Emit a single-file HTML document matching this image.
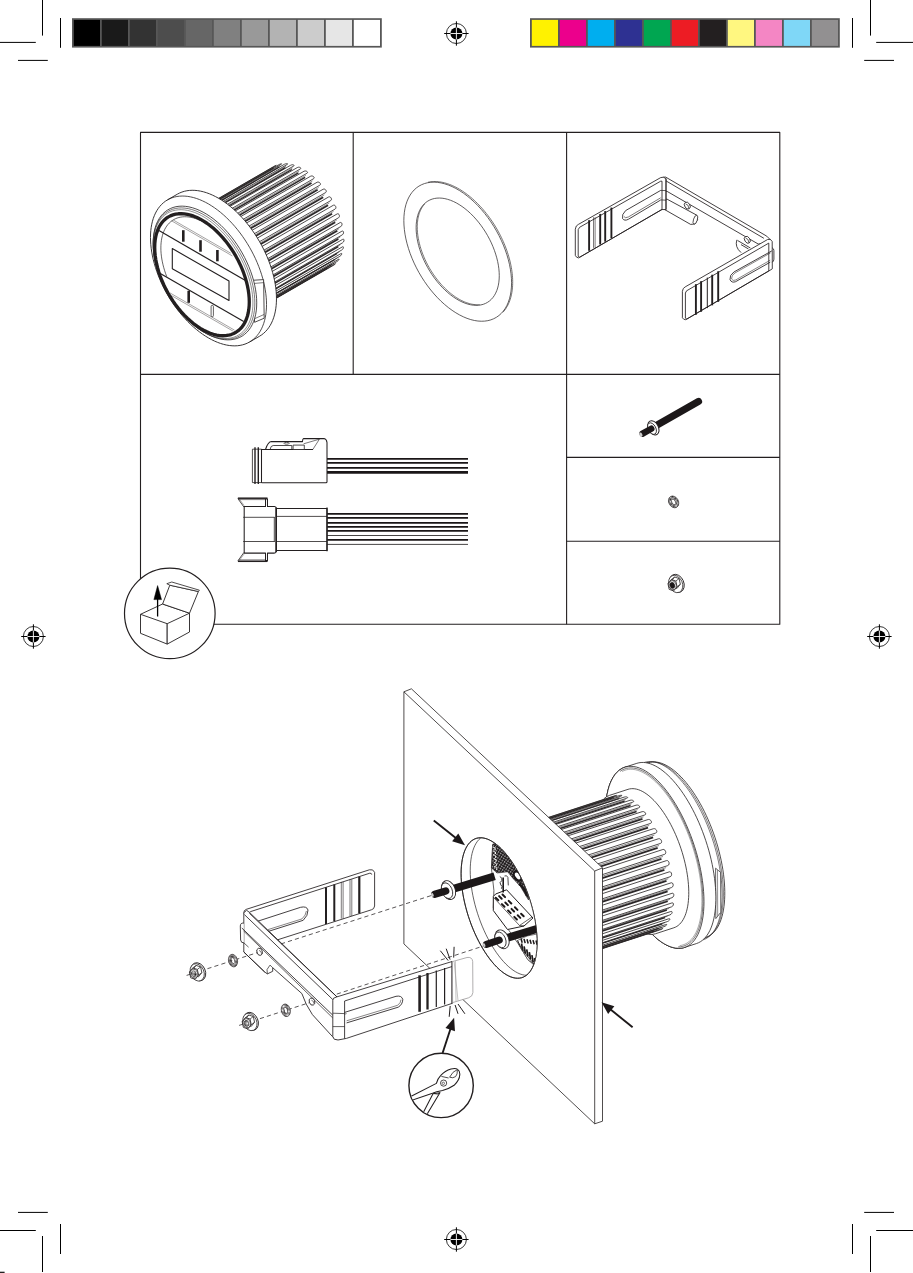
<!DOCTYPE html>
<html><head><meta charset="utf-8"><title>Installation</title>
<style>html,body{margin:0;padding:0;background:#fff;font-family:"Liberation Sans",sans-serif}svg{display:block}</style>
</head><body>
<svg width="913" height="1273" viewBox="0 0 913 1273" stroke-linecap="butt" stroke-linejoin="round">
<rect width="913" height="1273" fill="#fff"/>
<line x1="42.5" y1="0" x2="42.5" y2="35.6" stroke="#000" stroke-width="1" />
<line x1="0" y1="42.4" x2="35.8" y2="42.4" stroke="#000" stroke-width="1" />
<line x1="60.5" y1="18" x2="60.5" y2="47.8" stroke="#000" stroke-width="1" />
<line x1="18" y1="60.4" x2="47.8" y2="60.4" stroke="#000" stroke-width="1" />
<line x1="42.5" y1="1236" x2="42.5" y2="1272" stroke="#000" stroke-width="1" />
<line x1="0" y1="1230.5" x2="35.8" y2="1230.5" stroke="#000" stroke-width="1" />
<line x1="60.5" y1="1224" x2="60.5" y2="1254" stroke="#000" stroke-width="1" />
<line x1="18" y1="1212.4" x2="47.8" y2="1212.4" stroke="#000" stroke-width="1" />
<line x1="870.5" y1="0" x2="870.5" y2="35.6" stroke="#000" stroke-width="1" />
<line x1="876.2" y1="42.4" x2="913" y2="42.4" stroke="#000" stroke-width="1" />
<line x1="852.5" y1="18" x2="852.5" y2="47.8" stroke="#000" stroke-width="1" />
<line x1="864.2" y1="60.4" x2="894" y2="60.4" stroke="#000" stroke-width="1" />
<line x1="870.5" y1="1236" x2="870.5" y2="1272" stroke="#000" stroke-width="1" />
<line x1="876.2" y1="1230.5" x2="913" y2="1230.5" stroke="#000" stroke-width="1" />
<line x1="852.5" y1="1224" x2="852.5" y2="1254" stroke="#000" stroke-width="1" />
<line x1="864.2" y1="1212.4" x2="894" y2="1212.4" stroke="#000" stroke-width="1" />
<circle cx="456.4" cy="33.5" r="10" fill="none" stroke="#000" stroke-width="0.8"/>
<circle cx="456.4" cy="33.5" r="6" fill="#000"/>
<line x1="444.2" y1="33.5" x2="468.6" y2="33.5" stroke="#000" stroke-width="1" />
<line x1="456.4" y1="21.3" x2="456.4" y2="45.7" stroke="#000" stroke-width="1" />
<line x1="450.4" y1="33.5" x2="462.4" y2="33.5" stroke="#fff" stroke-width="0.9" />
<line x1="456.4" y1="27.5" x2="456.4" y2="39.5" stroke="#fff" stroke-width="0.9" />
<circle cx="456.4" cy="1239.5" r="10" fill="none" stroke="#000" stroke-width="0.8"/>
<circle cx="456.4" cy="1239.5" r="6" fill="#000"/>
<line x1="444.2" y1="1239.5" x2="468.6" y2="1239.5" stroke="#000" stroke-width="1" />
<line x1="456.4" y1="1227.3" x2="456.4" y2="1251.7" stroke="#000" stroke-width="1" />
<line x1="450.4" y1="1239.5" x2="462.4" y2="1239.5" stroke="#fff" stroke-width="0.9" />
<line x1="456.4" y1="1233.5" x2="456.4" y2="1245.5" stroke="#fff" stroke-width="0.9" />
<circle cx="33.4" cy="636.5" r="10" fill="none" stroke="#000" stroke-width="0.8"/>
<circle cx="33.4" cy="636.5" r="6" fill="#000"/>
<line x1="21.2" y1="636.5" x2="45.6" y2="636.5" stroke="#000" stroke-width="1" />
<line x1="33.4" y1="624.3" x2="33.4" y2="648.7" stroke="#000" stroke-width="1" />
<line x1="27.4" y1="636.5" x2="39.4" y2="636.5" stroke="#fff" stroke-width="0.9" />
<line x1="33.4" y1="630.5" x2="33.4" y2="642.5" stroke="#fff" stroke-width="0.9" />
<circle cx="879.4" cy="636.5" r="10" fill="none" stroke="#000" stroke-width="0.8"/>
<circle cx="879.4" cy="636.5" r="6" fill="#000"/>
<line x1="867.2" y1="636.5" x2="891.6" y2="636.5" stroke="#000" stroke-width="1" />
<line x1="879.4" y1="624.3" x2="879.4" y2="648.7" stroke="#000" stroke-width="1" />
<line x1="873.4" y1="636.5" x2="885.4" y2="636.5" stroke="#fff" stroke-width="0.9" />
<line x1="879.4" y1="630.5" x2="879.4" y2="642.5" stroke="#fff" stroke-width="0.9" />
<rect x="72" y="18.2" width="309.8" height="29.4" fill="#575757"/>
<rect x="73.8" y="19.9" width="26.2" height="26.0" fill="#000000"/>
<rect x="101.8" y="19.9" width="26.2" height="26.0" fill="#1a1a1a"/>
<rect x="129.8" y="19.9" width="26.2" height="26.0" fill="#333333"/>
<rect x="157.8" y="19.9" width="26.2" height="26.0" fill="#4d4d4d"/>
<rect x="185.8" y="19.9" width="26.2" height="26.0" fill="#666666"/>
<rect x="213.8" y="19.9" width="26.2" height="26.0" fill="#808080"/>
<rect x="241.8" y="19.9" width="26.2" height="26.0" fill="#999999"/>
<rect x="269.8" y="19.9" width="26.2" height="26.0" fill="#b3b3b3"/>
<rect x="297.8" y="19.9" width="26.2" height="26.0" fill="#cccccc"/>
<rect x="325.8" y="19.9" width="26.2" height="26.0" fill="#e6e6e6"/>
<rect x="353.8" y="19.9" width="26.2" height="26.0" fill="#ffffff"/>
<rect x="530" y="18.2" width="309.8" height="29.4" fill="#575757"/>
<rect x="531.8" y="19.9" width="26.2" height="26.0" fill="#fff200"/>
<rect x="559.8" y="19.9" width="26.2" height="26.0" fill="#ec008c"/>
<rect x="587.8" y="19.9" width="26.2" height="26.0" fill="#00aeef"/>
<rect x="615.8" y="19.9" width="26.2" height="26.0" fill="#2e3192"/>
<rect x="643.8" y="19.9" width="26.2" height="26.0" fill="#00a651"/>
<rect x="671.8" y="19.9" width="26.2" height="26.0" fill="#ed1c24"/>
<rect x="699.8" y="19.9" width="26.2" height="26.0" fill="#231f20"/>
<rect x="727.8" y="19.9" width="26.2" height="26.0" fill="#fff780"/>
<rect x="755.8" y="19.9" width="26.2" height="26.0" fill="#f486c4"/>
<rect x="783.8" y="19.9" width="26.2" height="26.0" fill="#7fd7f7"/>
<rect x="811.8" y="19.9" width="26.2" height="26.0" fill="#929091"/>
<path d="M140.5,579 L140.5,132.4 L779.8,132.4 L779.8,624.3 L213.8,624.3" fill="none" stroke="#231f20" stroke-width="1.1" />
<line x1="353.2" y1="132.4" x2="353.2" y2="374.4" stroke="#231f20" stroke-width="1.1" />
<line x1="566.6" y1="132.4" x2="566.6" y2="624.3" stroke="#231f20" stroke-width="1.1" />
<line x1="140.5" y1="374.4" x2="779.8" y2="374.4" stroke="#231f20" stroke-width="1.1" />
<line x1="566.6" y1="457.4" x2="779.8" y2="457.4" stroke="#231f20" stroke-width="1.1" />
<line x1="566.6" y1="541.3" x2="779.8" y2="541.3" stroke="#231f20" stroke-width="1.1" />
<rect x="0" y="1271.7" width="4.6" height="1.3" fill="#222"/>
<path d="M186.09,217.14 L274.42,166.14 L276.78,164.98 L279.3,164.14 L281.96,163.62 L284.77,163.43 L287.68,163.56 L290.69,164.02 L293.78,164.79 L296.93,165.89 L300.11,167.29 L303.32,169 L306.53,171 L309.72,173.27 L312.86,175.81 L315.95,178.6 L318.96,181.62 L321.88,184.86 L324.68,188.29 L327.35,191.89 L329.87,195.64 L332.23,199.51 L334.4,203.49 L336.39,207.55 L338.17,211.66 L339.74,215.8 L341.09,219.94 L342.2,224.06 L343.07,228.13 L343.69,232.13 L344.07,236.02 L344.2,239.8 L344.07,243.43 L343.69,246.89 L343.07,250.17 L342.2,253.23 L341.09,256.07 L339.74,258.66 L338.17,260.98 L336.39,263.04 L334.4,264.8 L332.23,266.26 L243.89,317.26Z" fill="#fff" stroke="none" stroke-width="0" />
<path d="M186.47,216.92 L273.24,166.82 C275.15,165.72 277.35,164.69 275.45,165.79 L188.68,215.89" fill="#fff" stroke="#231f20" stroke-width="0.8" />
<path d="M247.94,314.16 L334.71,264.06 C336.62,262.96 334.77,264.58 332.87,265.68 L246.09,315.78" fill="#fff" stroke="#231f20" stroke-width="0.8" />
<path d="M191.68,214.97 L278.45,164.87 C280.36,163.77 282.86,163.36 280.96,164.46 L194.18,214.56" fill="#fff" stroke="#231f20" stroke-width="0.8" />
<path d="M251.47,309.55 L338.24,259.45 C340.15,258.35 338.71,260.53 336.81,261.63 L250.03,311.73" fill="#fff" stroke="#231f20" stroke-width="0.8" />
<path d="M197.53,214.44 L284.3,164.34 C286.2,163.24 288.94,163.47 287.03,164.57 L200.26,214.67" fill="#fff" stroke="#231f20" stroke-width="0.8" />
<path d="M254.01,303.79 L340.78,253.69 C342.69,252.59 341.7,255.26 339.79,256.36 L253.02,306.46" fill="#fff" stroke="#231f20" stroke-width="0.8" />
<path d="M203.85,215.35 L290.62,165.25 C292.52,164.15 295.41,165.01 293.51,166.11 L206.73,216.21" fill="#fff" stroke="#231f20" stroke-width="0.8" />
<path d="M255.48,297.04 L342.25,246.94 C344.16,245.84 343.65,248.92 341.74,250.02 L254.97,300.12" fill="#fff" stroke="#231f20" stroke-width="0.8" />
<path d="M210.47,217.68 L297.24,167.58 C299.15,166.48 302.11,167.94 300.21,169.04 L213.44,219.14" fill="#fff" stroke="#231f20" stroke-width="0.8" />
<path d="M255.85,289.46 L342.62,239.36 C344.53,238.26 344.5,241.68 342.6,242.78 L255.82,292.88" fill="#fff" stroke="#231f20" stroke-width="0.8" />
<path d="M217.22,221.36 L303.99,171.26 C305.9,170.16 308.86,172.18 306.95,173.28 L220.18,223.38" fill="#fff" stroke="#231f20" stroke-width="0.8" />
<path d="M255.1,281.29 L341.88,231.19 C343.78,230.09 344.25,233.74 342.34,234.84 L255.57,284.94" fill="#fff" stroke="#231f20" stroke-width="0.8" />
<path d="M223.91,226.28 L310.68,176.18 C312.59,175.08 315.46,177.62 313.56,178.72 L226.78,228.82" fill="#fff" stroke="#231f20" stroke-width="0.8" />
<path d="M253.26,272.72 L340.04,222.62 C341.94,221.52 342.88,225.32 340.98,226.42 L254.2,276.52" fill="#fff" stroke="#231f20" stroke-width="0.8" />
<path d="M230.35,232.33 L317.12,182.23 C319.03,181.13 321.74,184.1 319.84,185.2 L233.06,235.3" fill="#fff" stroke="#231f20" stroke-width="0.8" />
<path d="M250.38,264.01 L337.15,213.91 C339.06,212.81 340.45,216.65 338.54,217.75 L251.77,267.85" fill="#fff" stroke="#231f20" stroke-width="0.8" />
<path d="M236.38,239.32 L323.15,189.22 C325.05,188.12 327.53,191.45 325.62,192.55 L238.85,242.65" fill="#fff" stroke="#231f20" stroke-width="0.8" />
<path d="M246.53,255.38 L333.3,205.28 C335.21,204.18 337.01,207.95 335.11,209.05 L248.33,259.15" fill="#fff" stroke="#231f20" stroke-width="0.8" />
<path d="M241.82,247.08 L328.59,196.98 C330.5,195.88 332.67,199.48 330.76,200.58 L243.99,250.68" fill="#fff" stroke="#231f20" stroke-width="0.8" />
<line x1="190.47" y1="216.03" x2="273.6" y2="168.03" stroke="#2a2627" stroke-width="1.15" />
<line x1="189.57" y1="215.95" x2="274.44" y2="166.95" stroke="#2a2627" stroke-width="0.5" />
<line x1="196.08" y1="215.11" x2="279.21" y2="167.11" stroke="#2a2627" stroke-width="1.15" />
<line x1="195.13" y1="214.82" x2="280" y2="165.82" stroke="#2a2627" stroke-width="0.5" />
<line x1="202.2" y1="215.62" x2="285.34" y2="167.62" stroke="#2a2627" stroke-width="1.17" />
<line x1="201.23" y1="215.13" x2="286.1" y2="166.13" stroke="#2a2627" stroke-width="0.5" />
<line x1="208.68" y1="217.53" x2="291.81" y2="169.53" stroke="#2a2627" stroke-width="1.34" />
<line x1="207.71" y1="216.86" x2="292.58" y2="167.86" stroke="#2a2627" stroke-width="0.5" />
<line x1="215.32" y1="220.79" x2="298.46" y2="172.79" stroke="#2a2627" stroke-width="1.48" />
<line x1="214.39" y1="219.96" x2="299.25" y2="170.96" stroke="#2a2627" stroke-width="0.5" />
<line x1="221.96" y1="225.33" x2="305.1" y2="177.33" stroke="#2a2627" stroke-width="1.58" />
<line x1="221.08" y1="224.35" x2="305.95" y2="175.35" stroke="#2a2627" stroke-width="0.5" />
<line x1="228.41" y1="231" x2="311.54" y2="183" stroke="#2a2627" stroke-width="1.66" />
<line x1="227.6" y1="229.9" x2="312.47" y2="180.9" stroke="#2a2627" stroke-width="0.5" />
<line x1="234.49" y1="237.66" x2="317.63" y2="189.66" stroke="#2a2627" stroke-width="1.72" />
<line x1="233.79" y1="236.48" x2="318.66" y2="187.48" stroke="#2a2627" stroke-width="0.5" />
<line x1="240.04" y1="245.13" x2="323.18" y2="197.13" stroke="#2a2627" stroke-width="1.74" />
<line x1="239.46" y1="243.89" x2="324.32" y2="194.89" stroke="#2a2627" stroke-width="0.5" />
<line x1="244.91" y1="253.2" x2="328.04" y2="205.2" stroke="#2a2627" stroke-width="1.75" />
<line x1="244.46" y1="251.94" x2="329.33" y2="202.94" stroke="#2a2627" stroke-width="0.5" />
<line x1="248.96" y1="261.65" x2="332.09" y2="213.65" stroke="#2a2627" stroke-width="1.73" />
<line x1="248.66" y1="260.41" x2="333.53" y2="211.41" stroke="#2a2627" stroke-width="0.5" />
<line x1="252.08" y1="270.25" x2="335.22" y2="222.25" stroke="#2a2627" stroke-width="1.69" />
<line x1="251.94" y1="269.06" x2="336.81" y2="220.06" stroke="#2a2627" stroke-width="0.5" />
<line x1="254.19" y1="278.77" x2="337.33" y2="230.77" stroke="#2a2627" stroke-width="1.62" />
<line x1="254.21" y1="277.66" x2="339.08" y2="228.66" stroke="#2a2627" stroke-width="0.5" />
<line x1="255.23" y1="286.97" x2="338.37" y2="238.97" stroke="#2a2627" stroke-width="1.52" />
<line x1="255.41" y1="285.97" x2="340.28" y2="236.97" stroke="#2a2627" stroke-width="0.5" />
<line x1="255.18" y1="294.64" x2="338.31" y2="246.64" stroke="#2a2627" stroke-width="1.4" />
<line x1="255.51" y1="293.77" x2="340.38" y2="244.77" stroke="#2a2627" stroke-width="0.5" />
<line x1="254.03" y1="301.55" x2="337.16" y2="253.55" stroke="#2a2627" stroke-width="1.24" />
<line x1="254.51" y1="300.85" x2="339.37" y2="251.85" stroke="#2a2627" stroke-width="0.5" />
<line x1="251.81" y1="307.53" x2="334.95" y2="259.53" stroke="#2a2627" stroke-width="1.15" />
<line x1="252.42" y1="307.01" x2="337.29" y2="258.01" stroke="#2a2627" stroke-width="0.5" />
<line x1="248.59" y1="312.41" x2="331.73" y2="264.41" stroke="#2a2627" stroke-width="1.15" />
<line x1="249.32" y1="312.09" x2="334.19" y2="263.09" stroke="#2a2627" stroke-width="0.5" />
<line x1="244.45" y1="316.06" x2="327.59" y2="268.06" stroke="#2a2627" stroke-width="1.15" />
<line x1="245.28" y1="315.93" x2="330.15" y2="266.93" stroke="#2a2627" stroke-width="0.5" />
<path d="M177.43,194.14 L179.63,192.99 L181.94,192.05 L184.35,191.31 L186.85,190.76 L189.44,190.43 L192.11,190.29 L194.85,190.37 L197.66,190.64 L200.52,191.13 L203.44,191.81 L206.39,192.7 L209.38,193.78 L212.39,195.07 L215.42,196.54 L218.45,198.2 L221.49,200.05 L224.52,202.07 L227.53,204.27 L230.52,206.63 L233.47,209.15 L236.38,211.83 L239.25,214.66 L242.05,217.62 L244.8,220.71 L247.47,223.93 L250.06,227.25 L252.56,230.69 L254.97,234.21 L257.28,237.83 L259.48,241.51 L261.57,245.26 L263.55,249.07 L265.39,252.92 L267.12,256.8 L268.7,260.71 L270.15,264.63 L271.46,268.55 L272.62,272.46 L273.64,276.36 L274.5,280.22 L275.21,284.04 L275.76,287.81 L276.16,291.51 L276.4,295.15 L276.48,298.7 L276.4,302.16 L276.16,305.52 L275.76,308.77 L275.21,311.9 L274.5,314.9 L273.64,317.76 L272.62,320.49 L271.46,323.06 L270.15,325.47 L268.7,327.71 L267.12,329.79 L265.39,331.68 L263.55,333.4 L261.57,334.93 L259.48,336.26 L249.52,342.01 L247.32,343.16 L245.01,344.1 L242.6,344.84 L240.1,345.39 L237.51,345.72 L234.84,345.86 L232.09,345.78 L229.29,345.51 L226.42,345.02 L223.51,344.34 L220.56,343.45 L217.57,342.37 L214.56,341.08 L211.53,339.61 L208.5,337.95 L205.46,336.1 L202.43,334.08 L199.42,331.88 L196.43,329.52 L193.48,327 L190.57,324.32 L187.7,321.49 L184.9,318.53 L182.15,315.44 L179.48,312.22 L176.89,308.9 L174.39,305.46 L171.98,301.94 L169.67,298.32 L167.47,294.64 L165.38,290.89 L163.4,287.08 L161.55,283.23 L159.83,279.35 L158.25,275.44 L156.8,271.52 L155.49,267.6 L154.33,263.69 L153.31,259.79 L152.45,255.93 L151.74,252.11 L151.19,248.34 L150.79,244.64 L150.55,241 L150.47,237.45 L150.55,233.99 L150.79,230.63 L151.19,227.38 L151.74,224.25 L152.45,221.25 L153.31,218.39 L154.33,215.66 L155.49,213.09 L156.8,210.68 L158.25,208.44 L159.83,206.36 L161.55,204.47 L163.4,202.75 L165.38,201.22 L167.47,199.89Z" fill="#fff" stroke="#231f20" stroke-width="0.9" />
<path d="M167.47,199.89 L169.67,198.74 L171.98,197.8 L174.39,197.06 L176.89,196.51 L179.48,196.18 L182.15,196.04 L184.9,196.12 L187.7,196.39 L190.57,196.88 L193.48,197.56 L196.43,198.45 L199.42,199.53 L202.43,200.82 L205.46,202.29 L208.5,203.95 L211.53,205.8 L214.56,207.82 L217.57,210.02 L220.56,212.38 L223.51,214.9 L226.42,217.58 L229.29,220.41 L232.09,223.37 L234.84,226.46 L237.51,229.68 L240.1,233 L242.6,236.44 L245.01,239.96 L247.32,243.58 L249.52,247.26 L251.61,251.01 L253.59,254.82 L255.44,258.67 L257.16,262.55 L258.74,266.46 L260.19,270.38 L261.5,274.3 L262.66,278.21 L263.68,282.11 L264.54,285.97 L265.25,289.79 L265.8,293.56 L266.2,297.26 L266.44,300.9 L266.52,304.45 L266.44,307.91 L266.2,311.27 L265.8,314.52 L265.25,317.65 L264.54,320.65 L263.68,323.51 L262.66,326.24 L261.5,328.81 L260.19,331.22 L258.74,333.46 L257.16,335.54 L255.44,337.43 L253.59,339.15 L251.61,340.68 L249.52,342.01" fill="none" stroke="#231f20" stroke-width="0.8" />
<path d="M252.6,280.3 L263.6,279.6 L264.2,318.2 L254.6,322.3Z" fill="#fff" stroke="#231f20" stroke-width="0.8" />
<line x1="253.5" y1="283.5" x2="263.8" y2="282.6" stroke="#231f20" stroke-width="0.6" />
<line x1="255" y1="318.5" x2="264" y2="314.5" stroke="#231f20" stroke-width="0.6" />
<path d="M256.73,302.9 L256.61,307 L256.23,310.93 L255.6,314.68 L254.73,318.22 L253.61,321.55 L252.25,324.64 L250.67,327.47 L248.86,330.05 L246.84,332.34 L244.62,334.34 L242.2,336.05 L239.6,337.45 L236.83,338.53 L233.9,339.3 L230.84,339.74 L227.65,339.86 L224.34,339.65 L220.95,339.11 L217.47,338.26 L213.94,337.08 L210.36,335.6 L206.75,333.81 L203.14,331.72 L199.53,329.35 L195.95,326.7 L192.42,323.79 L188.94,320.63 L185.54,317.24 L182.24,313.64 L179.05,309.84 L175.99,305.86 L173.06,301.71 L170.29,297.43 L167.69,293.03 L165.27,288.53 L163.05,283.96 L161.03,279.33 L159.22,274.67 L157.63,270.01 L156.28,265.36 L155.16,260.74 L154.29,256.19 L153.66,251.71 L153.28,247.34 L153.16,243.1 L153.28,239 L153.66,235.07 L154.29,231.32 L155.16,227.78 L156.28,224.45 L157.63,221.36 L159.22,218.53 L161.03,215.95 L163.05,213.66 L165.27,211.66 L167.69,209.95 L170.29,208.55 L173.06,207.47 L175.99,206.7 L179.05,206.26 L182.24,206.14 L185.54,206.35 L188.94,206.89 L192.42,207.74 L195.95,208.92 L199.53,210.4 L203.14,212.19 L206.75,214.28 L210.36,216.65 L213.94,219.3 L217.47,222.21 L220.95,225.37 L224.34,228.76 L227.65,232.36 L230.84,236.16 L233.9,240.14 L236.83,244.29 L239.6,248.57 L242.2,252.97 L244.62,257.47 L246.84,262.04 L248.86,266.67 L250.67,271.33 L252.25,275.99 L253.61,280.64 L254.73,285.26 L255.6,289.81 L256.23,294.29 L256.61,298.66 L256.73,302.9Z" fill="#fff" stroke="#231f20" stroke-width="0.8" />
<path d="M254.83,302.9 L254.7,306.92 L254.33,310.78 L253.72,314.46 L252.86,317.94 L251.76,321.21 L250.43,324.24 L248.88,327.02 L247.1,329.55 L245.12,331.8 L242.93,333.77 L240.56,335.44 L238.01,336.81 L235.29,337.88 L232.42,338.63 L229.41,339.06 L226.28,339.18 L223.03,338.97 L219.7,338.45 L216.29,337.61 L212.82,336.45 L209.31,335 L205.77,333.24 L202.22,331.19 L198.68,328.86 L195.16,326.26 L191.69,323.41 L188.28,320.31 L184.95,316.98 L181.71,313.44 L178.57,309.71 L175.57,305.8 L172.7,301.74 L169.98,297.53 L167.42,293.21 L165.05,288.8 L162.87,284.31 L160.88,279.77 L159.11,275.19 L157.55,270.61 L156.22,266.05 L155.13,261.52 L154.27,257.05 L153.65,252.66 L153.28,248.37 L153.16,244.2 L153.28,240.18 L153.65,236.32 L154.27,232.64 L155.13,229.16 L156.22,225.89 L157.55,222.86 L159.11,220.08 L160.88,217.55 L162.87,215.3 L165.05,213.33 L167.42,211.66 L169.98,210.29 L172.7,209.22 L175.57,208.47 L178.57,208.04 L181.71,207.92 L184.95,208.13 L188.28,208.65 L191.69,209.49 L195.16,210.65 L198.68,212.1 L202.22,213.86 L205.77,215.91 L209.31,218.24 L212.82,220.84 L216.29,223.69 L219.7,226.79 L223.03,230.12 L226.28,233.66 L229.41,237.39 L232.42,241.3 L235.29,245.36 L238.01,249.57 L240.56,253.89 L242.93,258.3 L245.12,262.79 L247.1,267.33 L248.88,271.91 L250.43,276.49 L251.76,281.05 L252.86,285.58 L253.72,290.05 L254.33,294.44 L254.7,298.73 L254.83,302.9Z" fill="none" stroke="#231f20" stroke-width="0.6" />
<path d="M252.92,302.9 L252.8,306.85 L252.44,310.64 L251.83,314.25 L250.99,317.66 L249.91,320.86 L248.61,323.84 L247.08,326.57 L245.34,329.05 L243.39,331.26 L241.25,333.19 L238.92,334.83 L236.42,336.18 L233.75,337.22 L230.93,337.96 L227.98,338.38 L224.91,338.5 L221.73,338.29 L218.45,337.78 L215.11,336.96 L211.7,335.83 L208.25,334.39 L204.78,332.67 L201.3,330.66 L197.83,328.37 L194.38,325.82 L190.97,323.02 L187.62,319.98 L184.35,316.72 L181.17,313.25 L178.1,309.58 L175.15,305.75 L172.33,301.76 L169.66,297.63 L167.16,293.4 L164.83,289.06 L162.68,284.66 L160.74,280.2 L159,275.71 L157.47,271.22 L156.17,266.74 L155.09,262.29 L154.25,257.91 L153.64,253.6 L153.28,249.39 L153.16,245.3 L153.28,241.35 L153.64,237.56 L154.25,233.95 L155.09,230.54 L156.17,227.34 L157.47,224.36 L159,221.63 L160.74,219.15 L162.68,216.94 L164.83,215.01 L167.16,213.37 L169.66,212.02 L172.33,210.98 L175.15,210.24 L178.1,209.82 L181.17,209.7 L184.35,209.91 L187.62,210.42 L190.97,211.24 L194.38,212.37 L197.83,213.81 L201.3,215.53 L204.78,217.54 L208.25,219.83 L211.7,222.38 L215.11,225.18 L218.45,228.22 L221.73,231.48 L224.91,234.95 L227.98,238.62 L230.93,242.45 L233.75,246.44 L236.42,250.57 L238.92,254.8 L241.25,259.14 L243.39,263.54 L245.34,268 L247.08,272.49 L248.61,276.98 L249.91,281.46 L250.99,285.91 L251.83,290.29 L252.44,294.6 L252.8,298.81 L252.92,302.9Z" fill="none" stroke="#444" stroke-width="0.6" />
<path d="M249.28,302 L249.17,305.74 L248.82,309.33 L248.25,312.76 L247.45,315.99 L246.43,319.03 L245.2,321.85 L243.75,324.44 L242.1,326.79 L240.25,328.88 L238.22,330.71 L236.01,332.27 L233.64,333.54 L231.11,334.53 L228.44,335.23 L225.64,335.63 L222.73,335.74 L219.71,335.55 L216.61,335.06 L213.44,334.28 L210.21,333.21 L206.94,331.85 L203.65,330.22 L200.35,328.31 L197.06,326.15 L193.79,323.73 L190.56,321.07 L187.39,318.19 L184.29,315.1 L181.27,311.81 L178.36,308.33 L175.56,304.7 L172.89,300.92 L170.36,297.01 L167.99,292.99 L165.78,288.88 L163.75,284.71 L161.9,280.48 L160.25,276.23 L158.8,271.97 L157.57,267.72 L156.55,263.51 L155.75,259.35 L155.18,255.26 L154.83,251.28 L154.72,247.4 L154.83,243.66 L155.18,240.07 L155.75,236.64 L156.55,233.41 L157.57,230.37 L158.8,227.55 L160.25,224.96 L161.9,222.61 L163.75,220.52 L165.78,218.69 L167.99,217.13 L170.36,215.86 L172.89,214.87 L175.56,214.17 L178.36,213.77 L181.27,213.66 L184.29,213.85 L187.39,214.34 L190.56,215.12 L193.79,216.19 L197.06,217.55 L200.35,219.18 L203.65,221.09 L206.94,223.25 L210.21,225.67 L213.44,228.33 L216.61,231.21 L219.71,234.3 L222.73,237.59 L225.64,241.07 L228.44,244.7 L231.11,248.48 L233.64,252.39 L236.01,256.41 L238.22,260.52 L240.25,264.69 L242.1,268.92 L243.75,273.17 L245.2,277.43 L246.43,281.68 L247.45,285.89 L248.25,290.05 L248.82,294.14 L249.17,298.12 L249.28,302Z" fill="#fff" stroke="#231f20" stroke-width="3.3" />
<path d="M166.72,276.58 L165.63,273.63 L164.65,270.67 L163.77,267.72 L163.01,264.79 L162.36,261.88 L161.82,259 L161.4,256.16 L161.1,253.37 L160.92,250.63 L160.87,247.95 L160.92,245.34 L161.1,242.81 L161.4,240.36 L161.82,238 L162.36,235.74 L163.01,233.58 L163.77,231.53 L164.65,229.59 L165.63,227.78 L166.72,226.08 L167.92,224.52 L169.22,223.09 L170.61,221.8 L172.1,220.64 L173.67,219.64 L175.33,218.78 L177.08,218.06 L178.89,217.5 L180.78,217.1 L182.73,216.84 L184.74,216.74 L186.81,216.8 L188.93,217.01 L191.08,217.37 L193.28,217.89 L195.51,218.55 L197.76,219.37 L200.03,220.34 L202.31,221.45 L204.6,222.7 L206.89,224.09 L209.17,225.62 L211.44,227.27 L213.69,229.05 L215.92,230.96 L218.11,232.97 L220.27,235.1 L222.39,237.34 L224.45,239.67 L226.46,242.09 L228.42,244.6 L230.3,247.19 L232.12,249.84 L233.86,252.57 L235.52,255.35 L237.1,258.17 L238.58,261.04 L239.98,263.94 L241.28,266.87 L242.47,269.82" fill="none" stroke="#231f20" stroke-width="0.7" />
<line x1="158.97" y1="230.56" x2="245.03" y2="280.24" stroke="#231f20" stroke-width="1.2" />
<line x1="160.28" y1="273.41" x2="243.72" y2="321.59" stroke="#231f20" stroke-width="1.2" />
<line x1="173.3" y1="220.03" x2="230.7" y2="253.17" stroke="#4a4647" stroke-width="0.5" />
<line x1="171.6" y1="220.85" x2="232.4" y2="255.95" stroke="#4a4647" stroke-width="0.5" />
<line x1="169.49" y1="292.63" x2="234.51" y2="330.17" stroke="#4a4647" stroke-width="0.5" />
<line x1="171.09" y1="295.35" x2="232.91" y2="331.05" stroke="#4a4647" stroke-width="0.5" />
<path d="M172.3,248.6 L229,280.9 L229,300.4 L172.3,268.7Z" fill="#fff" stroke="#231f20" stroke-width="1.1" />
<line x1="183.3" y1="230.2" x2="183.3" y2="241.7" stroke="#231f20" stroke-width="2.6" />
<line x1="200.5" y1="240.2" x2="200.5" y2="251.7" stroke="#231f20" stroke-width="2.6" />
<line x1="217.4" y1="250" x2="217.4" y2="261.3" stroke="#231f20" stroke-width="2.6" />
<line x1="188.7" y1="290.8" x2="188.7" y2="302.8" stroke="#231f20" stroke-width="2.6" />
<rect x="211.1" y="305.4" width="2.3" height="11.3" rx="1" fill="#fff" stroke="#231f20" stroke-width="0.7"/>
<path d="M511.57,282.8 L511.43,287.06 L511.04,291.15 L510.39,295.05 L509.48,298.74 L508.32,302.2 L506.91,305.41 L505.26,308.36 L503.38,311.04 L501.28,313.42 L498.96,315.51 L496.45,317.28 L493.74,318.73 L490.86,319.86 L487.82,320.66 L484.63,321.12 L481.31,321.24 L477.88,321.02 L474.35,320.47 L470.73,319.58 L467.05,318.36 L463.33,316.81 L459.58,314.95 L455.82,312.78 L452.07,310.31 L448.35,307.55 L444.67,304.53 L441.05,301.25 L437.52,297.72 L434.09,293.97 L430.77,290.02 L427.58,285.88 L424.54,281.57 L421.66,277.11 L418.95,272.54 L416.44,267.86 L414.12,263.1 L412.02,258.29 L410.14,253.44 L408.49,248.59 L407.08,243.75 L405.92,238.95 L405.01,234.21 L404.36,229.56 L403.97,225.01 L403.83,220.6 L403.97,216.34 L404.36,212.25 L405.01,208.35 L405.92,204.66 L407.08,201.2 L408.49,197.99 L410.14,195.04 L412.02,192.36 L414.12,189.98 L416.44,187.89 L418.95,186.12 L421.66,184.67 L424.54,183.54 L427.58,182.74 L430.77,182.28 L434.09,182.16 L437.52,182.38 L441.05,182.93 L444.67,183.82 L448.35,185.04 L452.07,186.59 L455.82,188.45 L459.58,190.62 L463.33,193.09 L467.05,195.85 L470.73,198.87 L474.35,202.15 L477.88,205.68 L481.31,209.43 L484.63,213.38 L487.82,217.52 L490.86,221.83 L493.74,226.29 L496.45,230.86 L498.96,235.54 L501.28,240.3 L503.38,245.11 L505.26,249.96 L506.91,254.81 L508.32,259.65 L509.48,264.45 L510.39,269.19 L511.04,273.84 L511.43,278.39 L511.57,282.8Z" fill="#fff" stroke="#3a3637" stroke-width="0.8" />
<path d="M427.93,182.26 L429.31,181.98 L430.73,181.76 L432.17,181.61 L433.63,181.53 L435.12,181.51 L436.63,181.56 L438.16,181.68 L439.72,181.86 L441.29,182.11 L442.88,182.43 L444.48,182.81 L446.1,183.26 L447.73,183.78 L449.37,184.36 L451.02,185 L452.68,185.71 L454.34,186.48 L456.01,187.31 L457.68,188.2 L459.35,189.15 L461.02,190.17 L462.69,191.24 L464.35,192.37 L466.01,193.56 L467.66,194.8 L469.31,196.09 L470.94,197.44 L472.57,198.84 L474.17,200.29 L475.77,201.79 L477.35,203.34 L478.91,204.93 L480.45,206.57 L481.97,208.24 L483.47,209.97 L484.94,211.73 L486.39,213.52 L487.81,215.36 L489.21,217.23 L490.57,219.13 L491.91,221.06 L493.21,223.02 L494.48,225.01 L495.71,227.02 L496.91,229.06 L498.08,231.12 L499.2,233.19 L500.29,235.29 L501.34,237.4 L502.34,239.52 L503.31,241.65 L504.23,243.79 L505.1,245.94 L505.94,248.1 L506.72,250.25 L507.47,252.41 L508.16,254.57 L508.81,256.72 L509.41,258.87 L509.96,261.01 L510.46,263.14 L510.91,265.26 L511.31,267.36 L511.66,269.45 L511.96,271.52 L512.21,273.57 L512.41,275.6 L512.55,277.61 L512.65,279.59 L512.69,281.55 L512.68,283.47 L512.62,285.36 L512.5,287.22 L512.34,289.05 L512.12,290.84 L511.85,292.59 L511.54,294.3 L511.17,295.97 L510.75,297.59 L510.28,299.17 L509.76,300.71 L509.19,302.19 L508.57,303.63 L507.91,305.02 L507.19,306.35 L506.43,307.63 L505.63,308.86 L504.78,310.03 L503.89,311.15 L502.95,312.2" fill="none" stroke="#3a3637" stroke-width="0.7" />
<path d="M499.27,275.7 L499.17,278.99 L498.86,282.15 L498.36,285.16 L497.66,288 L496.76,290.67 L495.67,293.15 L494.4,295.43 L492.95,297.49 L491.33,299.33 L489.54,300.94 L487.6,302.31 L485.51,303.43 L483.29,304.3 L480.94,304.91 L478.48,305.27 L475.92,305.36 L473.27,305.2 L470.55,304.77 L467.76,304.08 L464.92,303.14 L462.05,301.95 L459.15,300.51 L456.25,298.83 L453.35,296.93 L450.48,294.8 L447.64,292.47 L444.85,289.93 L442.13,287.21 L439.48,284.32 L436.92,281.27 L434.46,278.07 L432.11,274.75 L429.89,271.31 L427.8,267.78 L425.86,264.17 L424.07,260.5 L422.45,256.78 L421,253.04 L419.73,249.3 L418.64,245.56 L417.74,241.86 L417.04,238.2 L416.54,234.61 L416.23,231.11 L416.13,227.7 L416.23,224.41 L416.54,221.25 L417.04,218.24 L417.74,215.4 L418.64,212.73 L419.73,210.25 L421,207.97 L422.45,205.91 L424.07,204.07 L425.86,202.46 L427.8,201.09 L429.89,199.97 L432.11,199.1 L434.46,198.49 L436.92,198.13 L439.48,198.04 L442.13,198.2 L444.85,198.63 L447.64,199.32 L450.48,200.26 L453.35,201.45 L456.25,202.89 L459.15,204.57 L462.05,206.47 L464.92,208.6 L467.76,210.93 L470.55,213.47 L473.27,216.19 L475.92,219.08 L478.48,222.13 L480.94,225.33 L483.29,228.65 L485.51,232.09 L487.6,235.62 L489.54,239.23 L491.33,242.9 L492.95,246.62 L494.4,250.36 L495.67,254.1 L496.76,257.84 L497.66,261.54 L498.36,265.2 L498.86,268.79 L499.17,272.29 L499.27,275.7Z" fill="#fff" stroke="#3a3637" stroke-width="0.8" />
<path d="M479.61,304.62 L478.52,304.69 L477.41,304.72 L476.28,304.69 L475.14,304.62 L473.99,304.5 L472.82,304.33 L471.63,304.11 L470.44,303.84 L469.23,303.53 L468.02,303.17 L466.8,302.76 L465.57,302.31 L464.33,301.81 L463.09,301.26 L461.85,300.67 L460.6,300.03 L459.35,299.35 L458.1,298.62 L456.85,297.86 L455.6,297.05 L454.36,296.19 L453.12,295.3 L451.89,294.37 L450.66,293.4 L449.44,292.39 L448.22,291.34 L447.02,290.26 L445.83,289.14 L444.65,287.98 L443.48,286.8 L442.32,285.58 L441.19,284.33 L440.06,283.05 L438.96,281.74 L437.87,280.4 L436.8,279.04 L435.75,277.65 L434.72,276.24 L433.71,274.8 L432.73,273.34 L431.77,271.87 L430.83,270.37 L429.92,268.86 L429.04,267.33 L428.18,265.78 L427.35,264.23 L426.55,262.66 L425.77,261.08 L425.03,259.49 L424.32,257.89 L423.64,256.29 L422.99,254.68 L422.37,253.07 L421.79,251.46 L421.24,249.84 L420.72,248.23 L420.24,246.62 L419.79,245.02 L419.38,243.42 L419,241.82 L418.66,240.24 L418.36,238.67 L418.09,237.1 L417.86,235.55 L417.67,234.01 L417.51,232.49 L417.39,230.99 L417.31,229.5 L417.27,228.03 L417.26,226.59 L417.29,225.16 L417.36,223.76 L417.46,222.38 L417.61,221.03 L417.79,219.71 L418.01,218.41 L418.26,217.15 L418.55,215.91 L418.88,214.71 L419.24,213.54 L419.64,212.4 L420.08,211.3 L420.55,210.24 L421.05,209.21 L421.59,208.22 L422.16,207.26 L422.77,206.35 L423.4,205.48 L424.07,204.65 L424.78,203.86" fill="none" stroke="#3a3637" stroke-width="0.7" />
<path d="M663.3,177.2 L665.7,177.1 L766.8,236.2 L770.2,239.6 L768.9,243.1 L758.2,244 L667.1,191.4 L662,191Z" fill="#fff" stroke="#231f20" stroke-width="0.85" />
<line x1="665.7" y1="180.7" x2="763.9" y2="238.3" stroke="#231f20" stroke-width="0.85" />
<path d="M664.2,199.2 L667.1,199.2 L697,215.3 L697.6,219.5 L695,224 L690.6,224.4 L664.2,209.3Z" fill="#fff" stroke="#231f20" stroke-width="0.85" />
<ellipse cx="695.4" cy="219.7" rx="1.9" ry="4.6" transform="rotate(18 695.4 219.7)" fill="#fff" stroke="#231f20" stroke-width="0.7"/>
<path d="M736.9,239.8 Q734.5,247 741.1,252.6" fill="none" stroke="#231f20" stroke-width="0.85" />
<line x1="737.6" y1="240.5" x2="750.4" y2="248" stroke="#231f20" stroke-width="0.85" />
<line x1="741" y1="244.6" x2="748.5" y2="249" stroke="#231f20" stroke-width="0.85" />
<ellipse cx="687.3" cy="205.6" rx="2.6" ry="3.7" transform="rotate(-32 687.3 205.6)" fill="#fff" stroke="#231f20" stroke-width="0.8"/>
<path d="M685.7,204 q2.8,0.2 3.2,4.3" fill="none" stroke="#231f20" stroke-width="0.7" />
<ellipse cx="747.3" cy="239.8" rx="2.6" ry="3.7" transform="rotate(-32 747.3 239.8)" fill="#fff" stroke="#231f20" stroke-width="0.8"/>
<path d="M745.7,238.2 q2.8,0.2 3.2,4.3" fill="none" stroke="#231f20" stroke-width="0.7" />
<path d="M575.3,229.2 L576.3,226 L578.4,224.4 L660.7,177.6 L663.3,177.2 L666,178.6 L666,209.6 L662,209.5 L578.5,257.9 L576.6,257.2 L575.3,255.4Z" fill="#fff" stroke="#231f20" stroke-width="0.85" />
<path d="M578.2,229.6 L579.6,227.3 L660.7,181.2 L662,181.2 L662,209.4 L579.6,257.3 L578.2,256.3Z" fill="none" stroke="#231f20" stroke-width="0.85" />
<line x1="666" y1="178.6" x2="666" y2="209.6" stroke="#231f20" stroke-width="0.85" />
<line x1="660.7" y1="190.4" x2="666" y2="190.6" stroke="#231f20" stroke-width="0.7" />
<line x1="660.7" y1="199.9" x2="666" y2="200.2" stroke="#231f20" stroke-width="0.7" />
<path d="M660.7,190.4 L625.6,210.6 Q621.4,214.6 622.6,218.6 Q624.5,221.4 628.5,219.2 L660.7,200.0" fill="none" stroke="#231f20" stroke-width="0.85" />
<path d="M660.7,197.8 L628.3,217.0 Q625.0,218.6 624.0,216.6" fill="none" stroke="#231f20" stroke-width="0.6" />
<line x1="589.1" y1="220.2" x2="589.1" y2="250.8" stroke="#231f20" stroke-width="1.9" />
<line x1="593.5" y1="217.26" x2="593.5" y2="247.86" stroke="#231f20" stroke-width="0.6" />
<line x1="595.1" y1="217.26" x2="595.1" y2="247.86" stroke="#231f20" stroke-width="0.6" />
<line x1="600.2" y1="213.92" x2="600.2" y2="244.52" stroke="#231f20" stroke-width="1.9" />
<line x1="605.2" y1="211.09" x2="605.2" y2="241.69" stroke="#231f20" stroke-width="1.9" />
<line x1="611.4" y1="207.58" x2="611.4" y2="238.18" stroke="#231f20" stroke-width="1.9" />
<path d="M682.4,291.3 L683.3,288.5 L685.2,286.9 L767.6,239.5 L770.4,239.4 L772.2,241.5 L772.3,268.8 L770,270.3 L685.8,319.7 L683.8,319.3 L682.4,317.8Z" fill="#fff" stroke="#231f20" stroke-width="0.85" />
<path d="M685.4,293 L686.6,290.8 L768.8,243.1 L768.8,270.9 L686.8,319 L685.4,318.2Z" fill="none" stroke="#231f20" stroke-width="0.85" />
<path d="M772.2,247.8 Q773.9,248.6 773.9,250.6 L773.9,259.2 Q773.8,261.2 772.3,262.3" fill="none" stroke="#231f20" stroke-width="0.85" />
<path d="M771.8,250.9 L733.9,272.0 Q729.3,275.2 730.0,279.6 Q731.6,283.2 735.6,281.7 L770.2,262.2" fill="none" stroke="#231f20" stroke-width="0.85" />
<path d="M770.5,252.9 L734.9,273.0 Q731.2,275.6 731.6,279.0 Q732.8,281.4 735.6,280.0 L770.2,260.2" fill="none" stroke="#231f20" stroke-width="0.55" />
<line x1="695.9" y1="284.18" x2="695.9" y2="314.78" stroke="#231f20" stroke-width="1.9" />
<line x1="701.1" y1="281.17" x2="701.1" y2="311.77" stroke="#231f20" stroke-width="1.9" />
<line x1="707.3" y1="277.57" x2="707.3" y2="308.17" stroke="#231f20" stroke-width="1" />
<line x1="712.2" y1="274.73" x2="712.2" y2="305.33" stroke="#231f20" stroke-width="1.9" />
<line x1="718.2" y1="271.25" x2="718.2" y2="301.85" stroke="#231f20" stroke-width="1.9" />
<line x1="326.5" y1="458.9" x2="468" y2="458.9" stroke="#1a1617" stroke-width="1.9" />
<line x1="326.5" y1="462.9" x2="468" y2="462.9" stroke="#1a1617" stroke-width="1.9" />
<line x1="326.5" y1="467.9" x2="468" y2="467.9" stroke="#1a1617" stroke-width="1.9" />
<line x1="326.5" y1="472.4" x2="468" y2="472.4" stroke="#1a1617" stroke-width="2.8" />
<rect x="252.4" y="449.2" width="9.2" height="33.4" fill="#fff" stroke="#231f20" stroke-width="0.8"/>
<line x1="255" y1="447.2" x2="255" y2="483.9" stroke="#231f20" stroke-width="1.4" />
<line x1="258.3" y1="447.2" x2="258.3" y2="483.9" stroke="#231f20" stroke-width="1.4" />
<path d="M261.5,449.5 L261.5,482.0 Q261.5,482.7 262.2,482.7 L326.0,482.7 Q327,482.7 327,481.7 L327,442.5 Q326.6,439.2 324,438.6 L303.6,438.6 Q302.6,438.8 302.5,441.6 L271.5,441.6 Q268.0,441.8 265.5,449.5 Z" fill="#fff" stroke="#231f20" stroke-width="1.05" />
<line x1="261.5" y1="449.5" x2="313" y2="449.5" stroke="#231f20" stroke-width="1.05" />
<path d="M270.1,449.5 Q270.6,445.6 273.2,445.5 L291.8,445.5 L291.8,449.5" fill="none" stroke="#231f20" stroke-width="0.8" />
<rect x="293.1" y="445.1" width="11.2" height="4.4" fill="#fff" stroke="#231f20" stroke-width="0.8"/>
<path d="M303.6,443.8 L319.4,439.2 L312.8,449.5" fill="none" stroke="#231f20" stroke-width="0.6" />
<ellipse cx="286.6" cy="443.3" rx="2.6" ry="0.9" fill="#fff" stroke="#231f20" stroke-width="0.7"/>
<line x1="326.5" y1="513.9" x2="468" y2="513.9" stroke="#1a1617" stroke-width="1.9" />
<line x1="326.5" y1="517.9" x2="468" y2="517.9" stroke="#1a1617" stroke-width="1.9" />
<line x1="326.5" y1="522.9" x2="468" y2="522.9" stroke="#1a1617" stroke-width="1.9" />
<line x1="326.5" y1="526.9" x2="468" y2="526.9" stroke="#1a1617" stroke-width="1.9" />
<line x1="326.5" y1="530.9" x2="468" y2="530.9" stroke="#1a1617" stroke-width="1.9" />
<line x1="326.5" y1="535.5" x2="468" y2="535.5" stroke="#1a1617" stroke-width="0.8" />
<line x1="326.5" y1="539.9" x2="468" y2="539.9" stroke="#1a1617" stroke-width="1.9" />
<line x1="326.5" y1="544.4" x2="468" y2="544.4" stroke="#1a1617" stroke-width="0.8" />
<rect x="276" y="508.4" width="51" height="42.1" fill="#fff" stroke="#231f20" stroke-width="1.05"/>
<line x1="276" y1="516.4" x2="327" y2="516.4" stroke="#231f20" stroke-width="0.8" />
<line x1="276" y1="541.5" x2="327" y2="541.5" stroke="#231f20" stroke-width="0.8" />
<line x1="327" y1="507.6" x2="327" y2="551.2" stroke="#231f20" stroke-width="1.3" />
<path d="M244.2,506.4 L244.2,553.1 L265.5,553.1 L265.5,560.6 L267.5,560.6 L267.5,553.1 L274.5,553.1 Q276.2,553 276.2,551.3 L276.2,508.2 Q276.2,506.5 274.5,506.4 L267.5,506.4 L267.5,498.9 L265.5,498.9 L265.5,506.4 Z" fill="#fff" stroke="#231f20" stroke-width="1.05" />
<line x1="276.2" y1="507.5" x2="276.2" y2="552" stroke="#231f20" stroke-width="1.6" />
<line x1="274.3" y1="517" x2="274.3" y2="542" stroke="#231f20" stroke-width="0.8" />
<line x1="243.2" y1="517.3" x2="274.6" y2="517.3" stroke="#231f20" stroke-width="0.8" />
<line x1="243.2" y1="541.5" x2="274.6" y2="541.5" stroke="#231f20" stroke-width="0.8" />
<line x1="237.9" y1="498.2" x2="267.5" y2="498.2" stroke="#231f20" stroke-width="1.5" />
<line x1="238.6" y1="499.6" x2="265.5" y2="499.6" stroke="#231f20" stroke-width="0.6" />
<path d="M237.9,498.6 L243.9,507.0" fill="none" stroke="#231f20" stroke-width="0.8" />
<path d="M239.2,498.8 L244.2,505.6" fill="none" stroke="#231f20" stroke-width="0.5" stroke-opacity="0.7"/>
<line x1="237.9" y1="561.3" x2="267.5" y2="561.3" stroke="#231f20" stroke-width="1.5" />
<line x1="238.6" y1="559.9" x2="265.5" y2="559.9" stroke="#231f20" stroke-width="0.6" />
<path d="M237.9,560.9 L243.9,552.5" fill="none" stroke="#231f20" stroke-width="0.8" />
<path d="M239.2,560.7 L244.2,553.9" fill="none" stroke="#231f20" stroke-width="0.5" stroke-opacity="0.7"/>
<circle cx="169.8" cy="613.4" r="45.3" fill="#fff" stroke="#231f20" stroke-width="1.2"/>
<path d="M140.5,614.3 L167.2,623.7 L167.2,644.1 L140.5,633.3Z" fill="#fff" stroke="#231f20" stroke-width="0.9" />
<path d="M167.2,623.7 L189.5,613.2 L189.5,632 L167.2,644.1Z" fill="#fff" stroke="#231f20" stroke-width="0.9" />
<path d="M140.5,614.3 L162.6,604.0 L189.5,613.2" fill="none" stroke="#231f20" stroke-width="0.9" />
<path d="M162.6,604 L169.8,585.2 L198.4,591.5 L189.5,613.2Z" fill="#fff" stroke="#231f20" stroke-width="0.9" />
<path d="M169.8,585.2 L166.8,583.7 L171.8,582 L199.4,590.2 L198.4,591.5Z" fill="#fff" stroke="#231f20" stroke-width="0.8" />
<line x1="157.6" y1="616.5" x2="157.6" y2="598" stroke="#000" stroke-width="1.3" />
<path d="M157.6,585.6 L153.9,599.6 L161.5,599.6Z" fill="#000" stroke="#000" stroke-width="0.5" />
<line x1="653" y1="427.4" x2="698.6" y2="401.4" stroke="#1c1819" stroke-width="7" stroke-linecap="round"/>
<ellipse cx="653.4" cy="427.8" rx="5.0" ry="7.6" transform="rotate(-28 653.4 427.8)" fill="#fff" stroke="#231f20" stroke-width="1"/>
<ellipse cx="652.0" cy="428.6" rx="3.8" ry="6.2" transform="rotate(-28 652.0 428.6)" fill="#fff" stroke="#231f20" stroke-width="0.8"/>
<line x1="642.6" y1="433.6" x2="651.3" y2="428.7" stroke="#1c1819" stroke-width="6.4" stroke-linecap="round"/>
<ellipse cx="640.9" cy="434.7" rx="1.4" ry="2.2" transform="rotate(-28 640.9 434.7)" fill="#ccc" stroke="none"/>
<pattern id="chk" width="1.8" height="1.8" patternUnits="userSpaceOnUse" patternTransform="rotate(-28)"><rect width="1.8" height="1.8" fill="#fff"/><rect width="0.9" height="0.9" fill="#1c1819"/><rect x="0.9" y="0.9" width="0.9" height="0.9" fill="#1c1819"/></pattern>
<ellipse cx="673.6" cy="501.9" rx="3.3" ry="4.7" transform="rotate(-30 673.6 501.9)" fill="none" stroke="url(#chk)" stroke-width="3.0"/>
<ellipse cx="673.6" cy="501.9" rx="4.8" ry="6.2" transform="rotate(-30 673.6 501.9)" fill="none" stroke="#231f20" stroke-width="0.6"/>
<ellipse cx="673.6" cy="501.9" rx="1.8" ry="3.1" transform="rotate(-30 673.6 501.9)" fill="none" stroke="#231f20" stroke-width="0.6"/>
<g transform="translate(675.4 583.2) scale(1)">
<ellipse cx="1.4" cy="0.2" rx="7.0" ry="9.4" transform="rotate(-24 1.4 0.2)" fill="#fff" stroke="#231f20" stroke-width="0.85"/>
<ellipse cx="0.3" cy="0.8" rx="6.7" ry="9.0" transform="rotate(-24 0.3 0.8)" fill="#fff" stroke="#231f20" stroke-width="0.7"/>
<path d="M4.94,1.03 L1.62,5.2 L-2.92,3.67 L-4.14,-2.03 L-0.82,-6.2 L3.72,-4.67Z" fill="#fff" stroke="#231f20" stroke-width="0.8"/>
<path d="M1.64,3.53 L-1.68,7.7 L-6.22,6.17 L-7.44,0.47 L-4.12,-3.7 L0.42,-2.17Z" fill="#fff" stroke="#231f20" stroke-width="0.85"/>
<line x1="-7.44" y1="0.47" x2="-4.14" y2="-2.03" stroke="#231f20" stroke-width="0.7"/>
<line x1="-4.12" y1="-3.7" x2="-0.82" y2="-6.2" stroke="#231f20" stroke-width="0.7"/>
<line x1="0.42" y1="-2.17" x2="3.72" y2="-4.67" stroke="#231f20" stroke-width="0.7"/>
<line x1="1.64" y1="3.53" x2="4.94" y2="1.03" stroke="#231f20" stroke-width="0.7"/>
<ellipse cx="-2.9" cy="2" rx="3.7" ry="4.6" transform="rotate(-20 -2.9 2)" fill="#fff" stroke="#231f20" stroke-width="0.7"/>
<ellipse cx="-3.1" cy="2.2" rx="2.4" ry="3.1" transform="rotate(-20 -3.1 2.2)" fill="#1c1819" stroke="#231f20" stroke-width="0.5"/>
</g>
<path d="M648.23,762.76 L650.26,762.24 L652.35,761.95 L654.52,761.91 L656.75,762.1 L659.03,762.54 L661.37,763.22 L663.74,764.13 L666.16,765.29 L668.6,766.67 L671.07,768.28 L673.55,770.12 L676.04,772.17 L678.54,774.44 L681.03,776.92 L683.51,779.59 L685.98,782.46 L688.42,785.52 L690.82,788.75 L693.2,792.15 L695.52,795.71 L697.8,799.41 L700.02,803.26 L702.18,807.23 L704.27,811.32 L706.28,815.52 L708.21,819.81 L710.06,824.19 L711.82,828.63 L713.49,833.14 L715.05,837.69 L716.51,842.27 L717.86,846.88 L719.1,851.49 L720.23,856.1 L721.24,860.69 L722.12,865.26 L722.89,869.78 L723.52,874.25 L724.03,878.65 L724.42,882.97 L724.67,887.21 L724.79,891.34 L724.78,895.36 L724.64,899.25 L724.37,903.01 L723.97,906.62 L723.45,910.08 L722.79,913.38 L722.01,916.5 L721.11,919.43 L720.09,922.18 L718.94,924.73 L717.69,927.08 L716.32,929.21 L714.85,931.13 L713.27,932.82 L711.59,934.29 L709.82,935.53 L707.96,936.53 L706.02,937.3 L684.58,947.42 L682.49,947.96 L680.33,948.26 L678.09,948.3 L675.79,948.1 L673.43,947.65 L671.02,946.95 L668.57,946 L666.08,944.81 L663.55,943.39 L661.01,941.72 L658.44,939.83 L655.87,937.7 L653.29,935.36 L650.72,932.8 L648.16,930.04 L645.61,927.08 L643.09,923.93 L640.61,920.59 L638.16,917.08 L635.75,913.41 L633.4,909.58 L631.11,905.61 L628.88,901.5 L626.73,897.28 L624.65,892.95 L622.65,888.52 L620.74,884 L618.93,879.41 L617.21,874.76 L615.59,870.06 L614.08,865.33 L612.69,860.57 L611.41,855.81 L610.25,851.05 L609.21,846.31 L608.29,841.59 L607.5,836.92 L606.84,832.31 L606.32,827.76 L605.92,823.3 L605.66,818.93 L605.54,814.66 L605.55,810.52 L605.69,806.49 L605.97,802.61 L606.38,798.88 L606.92,795.31 L607.6,791.91 L608.41,788.69 L609.34,785.65 L610.39,782.82 L611.57,780.18 L612.87,777.76 L614.28,775.56 L615.8,773.58 L617.43,771.83 L619.16,770.31 L620.99,769.04 L622.91,768 L624.92,767.21Z" fill="#fff" stroke="#231f20" stroke-width="0.8" />
<path d="M646.33,762.75 L648.37,762.22 L650.48,761.93 L652.66,761.89 L654.9,762.09 L657.2,762.53 L659.55,763.21 L661.94,764.13 L664.37,765.29 L666.83,766.69 L669.31,768.31 L671.81,770.16 L674.32,772.22 L676.83,774.51 L679.34,777 L681.84,779.69 L684.32,782.58 L686.78,785.66 L689.2,788.91 L691.59,792.33 L693.93,795.91 L696.22,799.64 L698.46,803.51 L700.63,807.51 L702.73,811.63 L704.76,815.85 L706.7,820.17 L708.56,824.58 L710.33,829.05 L712.01,833.58 L713.58,838.16 L715.05,842.78 L716.41,847.41 L717.66,852.06 L718.8,856.7 L719.81,861.32 L720.7,865.91 L721.47,870.47 L722.11,874.96 L722.63,879.39 L723.01,883.75 L723.26,888.01 L723.39,892.16 L723.38,896.21 L723.24,900.13 L722.97,903.91 L722.56,907.55 L722.03,911.03 L721.37,914.35 L720.59,917.49 L719.68,920.44 L718.65,923.21 L717.5,925.78 L716.24,928.14 L714.86,930.29 L713.38,932.21 L711.79,933.92 L710.1,935.4 L708.32,936.64 L706.45,937.65 L704.49,938.42" fill="none" stroke="#231f20" stroke-width="0.6" />
<path d="M644.32,762.4 L646.37,761.87 L648.51,761.58 L650.71,761.53 L652.98,761.73 L655.3,762.18 L657.67,762.87 L660.09,763.8 L662.54,764.97 L665.03,766.38 L667.54,768.02 L670.06,769.88 L672.6,771.97 L675.14,774.28 L677.67,776.8 L680.19,779.52 L682.7,782.44 L685.18,785.54 L687.63,788.83 L690.04,792.29 L692.41,795.9 L694.72,799.67 L696.98,803.58 L699.17,807.62 L701.3,811.78 L703.35,816.05 L705.31,820.42 L707.19,824.87 L708.98,829.39 L710.67,833.97 L712.26,838.59 L713.75,843.25 L715.12,847.94 L716.39,852.63 L717.53,857.32 L718.55,861.99 L719.46,866.63 L720.23,871.23 L720.88,875.77 L721.4,880.25 L721.79,884.65 L722.04,888.95 L722.17,893.15 L722.16,897.24 L722.02,901.2 L721.74,905.02 L721.34,908.7 L720.8,912.21 L720.14,915.56 L719.34,918.74 L718.43,921.72 L717.38,924.52 L716.22,927.11 L714.95,929.5 L713.56,931.67 L712.06,933.62 L710.45,935.34 L708.75,936.83 L706.95,938.09 L705.06,939.11 L703.08,939.89" fill="none" stroke="#231f20" stroke-width="0.6" />
<path d="M715.6,868.2 L720.6,872.4 L720.8,912.2 L715.8,918.6Z" fill="#fff" stroke="#231f20" stroke-width="0.7" />
<line x1="717.5" y1="870.2" x2="717.7" y2="915.8" stroke="#231f20" stroke-width="0.5" />
<path d="M636.82,763.33 L638.91,762.79 L641.08,762.5 L643.31,762.45 L645.61,762.65 L647.97,763.11 L650.38,763.81 L652.84,764.75 L655.33,765.94 L657.85,767.37 L660.4,769.03 L662.96,770.93 L665.54,773.05 L668.11,775.39 L670.69,777.95 L673.25,780.71 L675.79,783.68 L678.31,786.83 L680.8,790.17 L683.25,793.68 L685.65,797.35 L688,801.18 L690.29,805.15 L692.52,809.25 L694.68,813.47 L696.76,817.81 L698.75,822.24 L700.66,826.76 L702.48,831.35 L704.2,836 L705.81,840.69 L707.32,845.43 L708.72,850.18 L710,854.95 L711.16,859.71 L712.2,864.45 L713.11,869.16 L713.9,873.83 L714.56,878.45 L715.09,882.99 L715.48,887.45 L715.74,891.83 L715.87,896.09 L715.86,900.24 L715.71,904.26 L715.44,908.14 L715.02,911.87 L714.48,915.44 L713.8,918.85 L713,922.07 L712.07,925.1 L711.01,927.94 L709.83,930.57 L708.54,932.99 L707.12,935.2 L705.6,937.18 L703.97,938.93 L702.24,940.44 L700.41,941.72 L698.49,942.75 L696.48,943.55 L684.58,947.42 L682.49,947.96 L680.33,948.26 L678.09,948.3 L675.79,948.1 L673.43,947.65 L671.02,946.95 L668.57,946 L666.08,944.81 L663.55,943.39 L661.01,941.72 L658.44,939.83 L655.87,937.7 L653.29,935.36 L650.72,932.8 L648.16,930.04 L645.61,927.08 L643.09,923.93 L640.61,920.59 L638.16,917.08 L635.75,913.41 L633.4,909.58 L631.11,905.61 L628.88,901.5 L626.73,897.28 L624.65,892.95 L622.65,888.52 L620.74,884 L618.93,879.41 L617.21,874.76 L615.59,870.06 L614.08,865.33 L612.69,860.57 L611.41,855.81 L610.25,851.05 L609.21,846.31 L608.29,841.59 L607.5,836.92 L606.84,832.31 L606.32,827.76 L605.92,823.3 L605.66,818.93 L605.54,814.66 L605.55,810.52 L605.69,806.49 L605.97,802.61 L606.38,798.88 L606.92,795.31 L607.6,791.91 L608.41,788.69 L609.34,785.65 L610.39,782.82 L611.57,780.18 L612.87,777.76 L614.28,775.56 L615.8,773.58 L617.43,771.83 L619.16,770.31 L620.99,769.04 L622.91,768 L624.92,767.21Z" fill="#fff" stroke="#231f20" stroke-width="0.8" />
<path d="M703.98,901.78 L703.88,906.68 L703.59,911.38 L703.11,915.87 L702.43,920.13 L701.57,924.14 L700.52,927.89 L699.29,931.35 L697.89,934.53 L696.32,937.4 L694.58,939.96 L692.68,942.19 L690.64,944.08 L688.45,945.63 L686.13,946.84 L683.69,947.69 L681.13,948.18 L678.47,948.31 L675.71,948.09 L672.87,947.51 L669.96,946.57 L666.99,945.28 L663.98,943.64 L660.92,941.66 L657.84,939.35 L654.75,936.71 L651.66,933.77 L648.58,930.52 L645.53,926.98 L642.51,923.16 L639.54,919.09 L636.63,914.77 L633.79,910.23 L631.04,905.47 L628.37,900.53 L625.82,895.42 L623.37,890.15 L621.05,884.76 L618.87,879.26 L616.82,873.67 L614.93,868.01 L613.19,862.32 L611.61,856.6 L610.21,850.89 L608.98,845.2 L607.93,839.56 L607.07,833.99 L606.4,828.52 L605.91,823.15 L605.62,817.92 L605.52,812.85 L605.62,807.95 L605.91,803.25 L606.4,798.76 L607.07,794.5 L607.93,790.49 L608.98,786.74 L610.21,783.28 L611.61,780.1 L613.19,777.23 L614.93,774.67 L616.82,772.44 L618.87,770.55 L621.05,769 L623.37,767.79 L625.82,766.94 L628.37,766.45 L631.04,766.32 L633.79,766.54 L636.63,767.12 L639.54,768.06 L642.51,769.35 L645.53,770.99 L648.58,772.97 L651.66,775.28 L654.75,777.91 L657.84,780.86 L660.92,784.11 L663.98,787.65 L666.99,791.47 L669.96,795.54 L672.87,799.86 L675.71,804.4 L678.47,809.16 L681.13,814.1 L683.69,819.21 L686.13,824.48 L688.45,829.87 L690.64,835.37 L692.68,840.96 L694.58,846.62 L696.32,852.31 L697.89,858.03 L699.29,863.74 L700.52,869.43 L701.57,875.07 L702.43,880.64 L703.11,886.11 L703.59,891.48 L703.88,896.71 L703.98,901.78Z" fill="#fff" stroke="#231f20" stroke-width="0.8" />
<path d="M620.05,771.39 L622.04,770.11 L624.15,769.13 L626.35,768.43 L628.64,768.02 L631.02,767.9 L633.47,768.07 L635.99,768.53 L638.57,769.28 L641.2,770.31 L643.88,771.63 L646.59,773.23 L649.32,775.1 L652.07,777.24 L654.83,779.64 L657.59,782.29 L660.34,785.19 L663.07,788.32 L665.77,791.68 L668.43,795.24 L671.05,799.02 L673.62,802.98 L676.12,807.11 L678.56,811.42 L680.91,815.87 L683.18,820.45 L685.35,825.16 L687.43,829.97 L689.4,834.87 L691.25,839.84 L692.98,844.87 L694.59,849.94 L696.07,855.04 L697.42,860.14 L698.62,865.23 L699.68,870.3 L700.6,875.33 L701.36,880.3 L701.97,885.19 L702.43,889.99 L702.73,894.69 L702.87,899.27 L702.86,903.71 L702.69,908 L702.36,912.13 L701.88,916.07 L701.25,919.83 L700.46,923.38 L699.52,926.72 L698.43,929.84 L697.21,932.72 L695.84,935.35 L694.34,937.73 L692.71,939.85 L690.96,941.71 L689.08,943.29 L687.1,944.58 L685,945.6 L682.81,946.33 L680.53,946.77 L678.16,946.92" fill="none" stroke="#231f20" stroke-width="0.6" />
<path d="M622.05,771.53 L624.05,770.56 L626.14,769.86 L628.32,769.42 L630.58,769.25 L632.9,769.35 L635.3,769.72 L637.75,770.36 L640.25,771.27 L642.79,772.44 L645.37,773.87 L647.98,775.55 L650.6,777.48 L653.24,779.66 L655.87,782.08 L658.51,784.73 L661.13,787.59 L663.73,790.68 L666.3,793.96 L668.83,797.44 L671.32,801.11 L673.75,804.94 L676.13,808.94 L678.43,813.08 L680.67,817.37 L682.82,821.77 L684.89,826.28 L686.86,830.89 L688.73,835.58 L690.5,840.33 L692.16,845.14 L693.7,849.99 L695.12,854.86 L696.41,859.73 L697.58,864.6 L698.61,869.45 L699.51,874.26 L700.27,879.02 L700.88,883.72 L701.36,888.33 L701.69,892.85 L701.88,897.27 L701.92,901.56 L701.81,905.72 L701.56,909.72 L701.17,913.58 L700.63,917.25 L699.95,920.75 L699.13,924.05 L698.17,927.15 L697.08,930.04 L695.85,932.71 L694.5,935.14 L693.03,937.34 L691.44,939.3 L689.73,941 L687.92,942.45 L686,943.64 L683.99,944.57 L681.88,945.23 L679.69,945.63" fill="none" stroke="#555" stroke-width="0.5" />
<path d="M628.03,789.33 L629.63,788.91 L631.3,788.69 L633.01,788.65 L634.78,788.81 L636.59,789.15 L638.44,789.69 L640.33,790.42 L642.24,791.33 L644.18,792.43 L646.14,793.71 L648.11,795.17 L650.09,796.8 L652.07,798.6 L654.04,800.56 L656.01,802.68 L657.97,804.96 L659.9,807.38 L661.81,809.94 L663.69,812.64 L665.54,815.46 L667.34,818.4 L669.11,821.45 L670.82,824.61 L672.47,827.85 L674.07,831.18 L675.61,834.58 L677.07,838.05 L678.47,841.58 L679.79,845.15 L681.03,848.76 L682.19,852.4 L683.26,856.05 L684.24,859.71 L685.14,863.37 L685.94,867.01 L686.64,870.63 L687.24,874.22 L687.75,877.77 L688.15,881.26 L688.46,884.69 L688.66,888.05 L688.75,891.32 L688.75,894.51 L688.64,897.6 L688.42,900.58 L688.11,903.45 L687.69,906.19 L687.17,908.8 L686.55,911.28 L685.83,913.61 L685.02,915.79 L684.12,917.81 L683.12,919.67 L682.04,921.37 L680.87,922.89 L679.62,924.23 L678.29,925.4 L676.88,926.38 L675.41,927.17 L673.86,927.78 L655.3,933.82 L652.03,934.47 L648.54,934.35 L644.88,933.46 L641.08,931.82 L637.19,929.45 L633.24,926.36 L629.28,922.6 L625.36,918.2 L621.51,913.21 L617.79,907.69 L614.22,901.7 L610.85,895.3 L607.72,888.57 L604.86,881.57 L602.3,874.39 L600.06,867.1 L598.19,859.79 L596.69,852.52 L595.57,845.39 L594.87,838.47 L594.57,831.83 L594.69,825.56 L595.22,819.71 L596.16,814.35 L597.49,809.55 L599.21,805.34 L601.29,801.79 L603.71,798.92 L606.44,796.78 L609.46,795.38Z" fill="#fff" stroke="#231f20" stroke-width="0.8" />
<path d="M510.14,829.85 L614.86,795.75 L617.22,795.22 L619.71,795.09 L622.3,795.39 L624.99,796.11 L627.75,797.23 L630.57,798.77 L633.42,800.7 L636.31,803.01 L639.19,805.7 L642.07,808.73 L644.91,812.11 L647.71,815.79 L650.44,819.77 L653.08,824.02 L655.63,828.5 L658.07,833.2 L660.38,838.08 L662.54,843.12 L664.55,848.28 L666.39,853.53 L668.04,858.84 L669.51,864.18 L670.78,869.5 L671.84,874.79 L672.69,880.01 L673.31,885.12 L673.72,890.1 L673.9,894.9 L673.85,899.52 L673.57,903.9 L673.08,908.04 L672.36,911.9 L671.42,915.45 L670.27,918.69 L668.92,921.58 L667.37,924.11 L665.63,926.26 L663.72,928.03 L661.65,929.39 L659.42,930.35 L554.7,964.45Z" fill="#fff" stroke="none" stroke-width="0" />
<path d="M510.53,829.73 L613.35,796.25 C615.82,795.45 618.03,795 615.55,795.81 L512.73,829.29" fill="#fff" stroke="#231f20" stroke-width="0.8" />
<path d="M558.87,962.23 L661.69,928.75 C664.17,927.94 662.24,929.19 659.76,930 L556.95,963.48" fill="#fff" stroke="#231f20" stroke-width="0.8" />
<path d="M515.69,829.23 L618.51,795.75 C620.98,794.95 623.4,795.32 620.93,796.12 L518.11,829.6" fill="#fff" stroke="#231f20" stroke-width="0.8" />
<path d="M562.72,958.11 L665.53,924.63 C668.01,923.82 666.41,925.85 663.94,926.65 L561.12,960.13" fill="#fff" stroke="#231f20" stroke-width="0.8" />
<path d="M521.31,830.59 L624.12,797.11 C626.6,796.3 629.17,797.47 626.7,798.28 L523.88,831.76" fill="#fff" stroke="#231f20" stroke-width="0.8" />
<path d="M565.73,952.33 L668.55,918.85 C671.02,918.05 669.8,920.79 667.33,921.59 L564.51,955.07" fill="#fff" stroke="#231f20" stroke-width="0.8" />
<path d="M527.23,833.75 L630.04,800.27 C632.52,799.47 635.18,801.42 632.7,802.22 L529.89,835.7" fill="#fff" stroke="#231f20" stroke-width="0.8" />
<path d="M567.84,945.05 L670.65,911.57 C673.13,910.76 672.32,914.14 669.84,914.95 L567.03,948.43" fill="#fff" stroke="#231f20" stroke-width="0.8" />
<path d="M533.29,838.65 L636.1,805.17 C638.58,804.36 641.25,807.03 638.77,807.84 L535.96,841.32" fill="#fff" stroke="#231f20" stroke-width="0.8" />
<path d="M568.98,936.46 L671.79,902.98 C674.27,902.18 673.89,906.1 671.41,906.91 L568.6,940.39" fill="#fff" stroke="#231f20" stroke-width="0.8" />
<path d="M539.33,845.14 L642.14,811.66 C644.62,810.86 647.22,814.18 644.75,814.98 L541.93,848.46" fill="#fff" stroke="#231f20" stroke-width="0.8" />
<path d="M569.12,926.8 L671.94,893.32 C674.41,892.51 674.47,896.88 672,897.69 L569.18,931.17" fill="#fff" stroke="#231f20" stroke-width="0.8" />
<path d="M545.18,853.05 L647.99,819.57 C650.47,818.77 652.94,822.64 650.46,823.45 L547.65,856.93" fill="#fff" stroke="#231f20" stroke-width="0.8" />
<path d="M568.26,916.33 L671.08,882.85 C673.56,882.04 674.06,886.73 671.58,887.54 L568.76,921.02" fill="#fff" stroke="#231f20" stroke-width="0.8" />
<path d="M550.68,862.17 L653.49,828.69 C655.97,827.88 658.24,832.21 655.76,833.02 L552.95,866.5" fill="#fff" stroke="#231f20" stroke-width="0.8" />
<path d="M566.43,905.34 L669.24,871.86 C671.72,871.05 672.65,875.93 670.17,876.74 L567.35,910.22" fill="#fff" stroke="#231f20" stroke-width="0.8" />
<path d="M555.68,872.24 L658.5,838.76 C660.97,837.95 662.98,842.61 660.5,843.42 L557.69,876.9" fill="#fff" stroke="#231f20" stroke-width="0.8" />
<path d="M563.67,894.12 L666.48,860.64 C668.96,859.83 670.28,864.78 667.81,865.58 L564.99,899.06" fill="#fff" stroke="#231f20" stroke-width="0.8" />
<path d="M560.05,882.98 L662.87,849.5 C665.34,848.7 667.03,853.57 664.56,854.37 L561.74,887.85" fill="#fff" stroke="#231f20" stroke-width="0.8" />
<line x1="514.38" y1="829.87" x2="613.38" y2="797.63" stroke="#2a2627" stroke-width="1.2" />
<line x1="513.5" y1="829.57" x2="614.41" y2="796.71" stroke="#2a2627" stroke-width="0.55" />
<line x1="519.82" y1="830.7" x2="618.83" y2="798.46" stroke="#2a2627" stroke-width="1.2" />
<line x1="518.91" y1="830.12" x2="619.83" y2="797.26" stroke="#2a2627" stroke-width="0.55" />
<line x1="525.62" y1="833.34" x2="624.62" y2="801.1" stroke="#2a2627" stroke-width="1.27" />
<line x1="524.69" y1="832.5" x2="625.61" y2="799.64" stroke="#2a2627" stroke-width="0.55" />
<line x1="531.59" y1="837.72" x2="630.6" y2="805.48" stroke="#2a2627" stroke-width="1.46" />
<line x1="530.68" y1="836.65" x2="631.6" y2="803.79" stroke="#2a2627" stroke-width="0.55" />
<line x1="537.59" y1="843.72" x2="636.6" y2="811.48" stroke="#2a2627" stroke-width="1.6" />
<line x1="536.72" y1="842.44" x2="637.63" y2="809.58" stroke="#2a2627" stroke-width="0.55" />
<line x1="543.45" y1="851.18" x2="642.46" y2="818.94" stroke="#2a2627" stroke-width="1.72" />
<line x1="542.64" y1="849.73" x2="643.55" y2="816.87" stroke="#2a2627" stroke-width="0.55" />
<line x1="549.01" y1="859.89" x2="648.02" y2="827.65" stroke="#2a2627" stroke-width="1.8" />
<line x1="548.28" y1="858.31" x2="649.2" y2="825.45" stroke="#2a2627" stroke-width="0.55" />
<line x1="554.12" y1="869.62" x2="653.12" y2="837.38" stroke="#2a2627" stroke-width="1.86" />
<line x1="553.49" y1="867.96" x2="654.4" y2="835.1" stroke="#2a2627" stroke-width="0.55" />
<line x1="558.63" y1="880.1" x2="657.64" y2="847.86" stroke="#2a2627" stroke-width="1.89" />
<line x1="558.13" y1="878.39" x2="659.04" y2="845.53" stroke="#2a2627" stroke-width="0.55" />
<line x1="562.43" y1="891.04" x2="661.44" y2="858.8" stroke="#2a2627" stroke-width="1.9" />
<line x1="562.06" y1="889.34" x2="662.97" y2="856.48" stroke="#2a2627" stroke-width="0.55" />
<line x1="565.41" y1="902.15" x2="664.42" y2="869.91" stroke="#2a2627" stroke-width="1.88" />
<line x1="565.18" y1="900.5" x2="666.1" y2="867.64" stroke="#2a2627" stroke-width="0.55" />
<line x1="567.49" y1="913.13" x2="666.5" y2="880.89" stroke="#2a2627" stroke-width="1.83" />
<line x1="567.41" y1="911.58" x2="668.33" y2="878.72" stroke="#2a2627" stroke-width="0.55" />
<line x1="568.61" y1="923.67" x2="667.62" y2="891.43" stroke="#2a2627" stroke-width="1.76" />
<line x1="568.69" y1="922.25" x2="669.6" y2="889.39" stroke="#2a2627" stroke-width="0.55" />
<line x1="568.75" y1="933.48" x2="667.76" y2="901.24" stroke="#2a2627" stroke-width="1.65" />
<line x1="568.98" y1="932.24" x2="669.89" y2="899.38" stroke="#2a2627" stroke-width="0.55" />
<line x1="567.89" y1="942.31" x2="666.9" y2="910.07" stroke="#2a2627" stroke-width="1.52" />
<line x1="568.27" y1="941.28" x2="669.18" y2="908.42" stroke="#2a2627" stroke-width="0.55" />
<line x1="566.07" y1="949.9" x2="665.08" y2="917.66" stroke="#2a2627" stroke-width="1.35" />
<line x1="566.58" y1="949.11" x2="667.49" y2="916.25" stroke="#2a2627" stroke-width="0.55" />
<line x1="563.33" y1="956.05" x2="662.34" y2="923.81" stroke="#2a2627" stroke-width="1.2" />
<line x1="563.96" y1="955.53" x2="664.87" y2="922.67" stroke="#2a2627" stroke-width="0.55" />
<line x1="559.75" y1="960.6" x2="658.76" y2="928.36" stroke="#2a2627" stroke-width="1.2" />
<line x1="560.48" y1="960.35" x2="661.39" y2="927.49" stroke="#2a2627" stroke-width="0.55" />
<line x1="555.42" y1="963.42" x2="654.43" y2="931.18" stroke="#2a2627" stroke-width="1.2" />
<line x1="556.23" y1="963.44" x2="657.14" y2="930.58" stroke="#2a2627" stroke-width="0.55" />
<path d="M403.9,691.8 L411.4,688.8 L602.5,867.9 L602.5,1121.2 L594.7,1123.8 L403.9,943.9Z" fill="#fff" stroke="#231f20" stroke-width="0.8" />
<path d="M403.9,691.8 L594.7,871 L594.7,1123.8" fill="none" stroke="#231f20" stroke-width="0.8" />
<line x1="594.7" y1="871" x2="602.5" y2="867.9" stroke="#231f20" stroke-width="0.8" />
<clipPath id="holeclip"><path d="M537.11,942.33 L537.03,946.11 L536.81,949.74 L536.43,953.21 L535.91,956.49 L535.25,959.59 L534.44,962.48 L533.49,965.16 L532.4,967.61 L531.19,969.83 L529.85,971.8 L528.38,973.52 L526.81,974.99 L525.12,976.18 L523.33,977.11 L521.44,977.77 L519.46,978.15 L517.41,978.26 L515.28,978.08 L513.09,977.63 L510.84,976.91 L508.55,975.91 L506.22,974.65 L503.86,973.12 L501.49,971.33 L499.1,969.3 L496.71,967.02 L494.34,964.51 L491.98,961.78 L489.65,958.84 L487.36,955.69 L485.11,952.36 L482.92,948.85 L480.79,945.18 L478.74,941.36 L476.76,937.42 L474.87,933.35 L473.08,929.19 L471.39,924.94 L469.82,920.62 L468.35,916.26 L467.01,911.86 L465.8,907.45 L464.71,903.04 L463.76,898.65 L462.95,894.29 L462.29,890 L461.77,885.77 L461.39,881.63 L461.17,877.59 L461.09,873.67 L461.17,869.89 L461.39,866.26 L461.77,862.79 L462.29,859.51 L462.95,856.41 L463.76,853.52 L464.71,850.84 L465.8,848.39 L467.01,846.17 L468.35,844.2 L469.82,842.48 L471.39,841.01 L473.08,839.82 L474.87,838.89 L476.76,838.23 L478.74,837.85 L480.79,837.74 L482.92,837.92 L485.11,838.37 L487.36,839.09 L489.65,840.09 L491.98,841.35 L494.34,842.88 L496.71,844.67 L499.1,846.7 L501.49,848.98 L503.86,851.49 L506.22,854.22 L508.55,857.16 L510.84,860.31 L513.09,863.64 L515.28,867.15 L517.41,870.82 L519.46,874.64 L521.44,878.58 L523.33,882.65 L525.12,886.81 L526.81,891.06 L528.38,895.38 L529.85,899.74 L531.19,904.14 L532.4,908.55 L533.49,912.96 L534.44,917.35 L535.25,921.71 L535.91,926 L536.43,930.23 L536.81,934.37 L537.03,938.41 L537.11,942.33Z"/></clipPath>
<path d="M537.11,942.33 L537.03,946.11 L536.81,949.74 L536.43,953.21 L535.91,956.49 L535.25,959.59 L534.44,962.48 L533.49,965.16 L532.4,967.61 L531.19,969.83 L529.85,971.8 L528.38,973.52 L526.81,974.99 L525.12,976.18 L523.33,977.11 L521.44,977.77 L519.46,978.15 L517.41,978.26 L515.28,978.08 L513.09,977.63 L510.84,976.91 L508.55,975.91 L506.22,974.65 L503.86,973.12 L501.49,971.33 L499.1,969.3 L496.71,967.02 L494.34,964.51 L491.98,961.78 L489.65,958.84 L487.36,955.69 L485.11,952.36 L482.92,948.85 L480.79,945.18 L478.74,941.36 L476.76,937.42 L474.87,933.35 L473.08,929.19 L471.39,924.94 L469.82,920.62 L468.35,916.26 L467.01,911.86 L465.8,907.45 L464.71,903.04 L463.76,898.65 L462.95,894.29 L462.29,890 L461.77,885.77 L461.39,881.63 L461.17,877.59 L461.09,873.67 L461.17,869.89 L461.39,866.26 L461.77,862.79 L462.29,859.51 L462.95,856.41 L463.76,853.52 L464.71,850.84 L465.8,848.39 L467.01,846.17 L468.35,844.2 L469.82,842.48 L471.39,841.01 L473.08,839.82 L474.87,838.89 L476.76,838.23 L478.74,837.85 L480.79,837.74 L482.92,837.92 L485.11,838.37 L487.36,839.09 L489.65,840.09 L491.98,841.35 L494.34,842.88 L496.71,844.67 L499.1,846.7 L501.49,848.98 L503.86,851.49 L506.22,854.22 L508.55,857.16 L510.84,860.31 L513.09,863.64 L515.28,867.15 L517.41,870.82 L519.46,874.64 L521.44,878.58 L523.33,882.65 L525.12,886.81 L526.81,891.06 L528.38,895.38 L529.85,899.74 L531.19,904.14 L532.4,908.55 L533.49,912.96 L534.44,917.35 L535.25,921.71 L535.91,926 L536.43,930.23 L536.81,934.37 L537.03,938.41 L537.11,942.33Z" fill="#fff" stroke="#231f20" stroke-width="0.8" />
<g clip-path="url(#holeclip)">
<path d="M546.25,939.35 L546.17,943.13 L545.95,946.76 L545.57,950.23 L545.05,953.52 L544.39,956.61 L543.58,959.51 L542.63,962.19 L541.54,964.64 L540.33,966.85 L538.99,968.83 L537.52,970.55 L535.94,972.01 L534.26,973.21 L532.47,974.14 L530.58,974.79 L528.6,975.18 L526.55,975.28 L524.42,975.11 L522.23,974.66 L519.98,973.93 L517.69,972.94 L515.36,971.67 L513,970.14 L510.63,968.36 L508.24,966.32 L505.85,964.05 L503.48,961.54 L501.12,958.81 L498.79,955.86 L496.49,952.72 L494.25,949.38 L492.06,945.87 L489.93,942.2 L487.87,938.39 L485.9,934.44 L484.01,930.37 L482.22,926.21 L480.53,921.96 L478.96,917.65 L477.49,913.28 L476.15,908.89 L474.93,904.47 L473.85,900.06 L472.9,895.67 L472.09,891.32 L471.43,887.02 L470.91,882.79 L470.53,878.65 L470.31,874.61 L470.23,870.7 L470.31,866.91 L470.53,863.28 L470.91,859.82 L471.43,856.53 L472.09,853.43 L472.9,850.54 L473.85,847.86 L474.93,845.41 L476.15,843.19 L477.49,841.22 L478.96,839.5 L480.53,838.04 L482.22,836.84 L484.01,835.91 L485.9,835.25 L487.87,834.87 L489.93,834.77 L492.06,834.94 L494.25,835.39 L496.49,836.12 L498.79,837.11 L501.12,838.38 L503.48,839.9 L505.85,841.69 L508.24,843.72 L510.63,846 L513,848.51 L515.36,851.24 L517.69,854.19 L519.98,857.33 L522.23,860.67 L524.42,864.17 L526.55,867.84 L528.6,871.66 L530.58,875.61 L532.47,879.67 L534.26,883.84 L535.94,888.09 L537.52,892.4 L538.99,896.76 L540.33,901.16 L541.54,905.57 L542.63,909.98 L543.58,914.38 L544.39,918.73 L545.05,923.03 L545.57,927.26 L545.95,931.4 L546.17,935.44 L546.25,939.35Z" fill="none" stroke="#231f20" stroke-width="0.7" />
<path d="M492.6,845 L491.4,868 L493.9,890.4 L493.3,908 L506.5,926.9 L517.8,943.2 L527.9,959.6 L545,975 L560,930 L545,860 L510,835Z" fill="#fff" stroke="#231f20" stroke-width="0.7" />
<pattern id="hx" width="2.6" height="2.6" patternUnits="userSpaceOnUse" patternTransform="rotate(32)"><rect width="2.6" height="2.6" fill="#1c1819"/><rect x="0.2" y="0.2" width="1.0" height="1.3" fill="#fff"/></pattern>
<path d="M492.8,844 L500,843 L514,858 L524,876 L530,893 L528.5,900 L520.3,886.3 L512.8,878.2 L507.7,871.8 L497,873 L491.6,868Z" fill="url(#hx)" stroke="#231f20" stroke-width="0.6" />
<path d="M492.6,847 q3.6,0.6 2.4,3.2" fill="none" stroke="#fff" stroke-width="1" />
<path d="M492.9,850.9 q3.6,0.6 2.4,3.2" fill="none" stroke="#fff" stroke-width="1" />
<path d="M493.2,854.8 q3.6,0.6 2.4,3.2" fill="none" stroke="#fff" stroke-width="1" />
<path d="M493.5,858.7 q3.6,0.6 2.4,3.2" fill="none" stroke="#fff" stroke-width="1" />
<path d="M493.8,862.6 q3.6,0.6 2.4,3.2" fill="none" stroke="#fff" stroke-width="1" />
<path d="M494.1,866.5 q3.6,0.6 2.4,3.2" fill="none" stroke="#fff" stroke-width="1" />
<ellipse cx="517.6" cy="876.0" rx="3.2" ry="5.0" transform="rotate(-32 517.6 876.0)" fill="#fff" stroke="#1c1819" stroke-width="2.2"/>
<path d="M519,884 q5,3 8,12" fill="none" stroke="#1c1819" stroke-width="2.2" />
<path d="M517.5,940.5 L527,936 L537,934 L540,965 L534.2,964.1 L527.9,959.8 L520.3,947.2Z" fill="#fff" stroke="#231f20" stroke-width="0.6" />
<path d="M521.5,943.5 l1.3,7.2" fill="none" stroke="#1c1819" stroke-width="1.7" />
<path d="M524.1,946.4 l1.3,7.2" fill="none" stroke="#1c1819" stroke-width="1.7" />
<path d="M526.7,949.3 l1.3,7.2" fill="none" stroke="#1c1819" stroke-width="1.7" />
<path d="M529.3,952.2 l1.3,7.2" fill="none" stroke="#1c1819" stroke-width="1.7" />
<path d="M531.9,955.1 l1.3,7.2" fill="none" stroke="#1c1819" stroke-width="1.7" />
<path d="M534.5,958 l1.3,7.2" fill="none" stroke="#1c1819" stroke-width="1.7" />
<path d="M537.1,960.9 l1.3,7.2" fill="none" stroke="#1c1819" stroke-width="1.7" />
<path d="M539.7,963.8 l1.3,7.2" fill="none" stroke="#1c1819" stroke-width="1.7" />
<path d="M542.3,966.7 l1.3,7.2" fill="none" stroke="#1c1819" stroke-width="1.7" />
<path d="M521,938.5 l1.2,4.2" fill="none" stroke="#1c1819" stroke-width="1.5" />
<path d="M524,938.9 l1.2,4.2" fill="none" stroke="#1c1819" stroke-width="1.5" />
<path d="M527,939.3 l1.2,4.2" fill="none" stroke="#1c1819" stroke-width="1.5" />
<path d="M530,939.7 l1.2,4.2" fill="none" stroke="#1c1819" stroke-width="1.5" />
<path d="M533,940.1 l1.2,4.2" fill="none" stroke="#1c1819" stroke-width="1.5" />
<path d="M536,940.5 l1.2,4.2" fill="none" stroke="#1c1819" stroke-width="1.5" />
<path d="M539,940.9 l1.2,4.2" fill="none" stroke="#1c1819" stroke-width="1.5" />
<path d="M517.5,940.5 Q522,951 534.2,964" fill="none" stroke="#231f20" stroke-width="0.9" />
<path d="M493.3,896.5 L495.6,894 L506.6,889.8 L533,918 L524,926 L507.5,929.5 L493.3,910.5Z" fill="#fff" stroke="#231f20" stroke-width="1" />
<path d="M493.6,897.5 L519.5,925.5 L524,926 M519.5,925.5 L532,917" fill="none" stroke="#231f20" stroke-width="0.7" />
<path d="M502.5,894.5 l2.6,2.6" stroke="#1c1819" stroke-width="2.0" stroke-linecap="round"/>
<path d="M508.7,900.9 l2.6,2.6" stroke="#1c1819" stroke-width="2.0" stroke-linecap="round"/>
<path d="M514.9,907.3 l2.6,2.6" stroke="#1c1819" stroke-width="2.0" stroke-linecap="round"/>
<path d="M521.1,913.7 l2.6,2.6" stroke="#1c1819" stroke-width="2.0" stroke-linecap="round"/>
<path d="M499.1,896.1 l2.6,2.6" stroke="#1c1819" stroke-width="2.0" stroke-linecap="round"/>
<path d="M505.3,902.5 l2.6,2.6" stroke="#1c1819" stroke-width="2.0" stroke-linecap="round"/>
<path d="M511.5,908.9 l2.6,2.6" stroke="#1c1819" stroke-width="2.0" stroke-linecap="round"/>
<path d="M517.7,915.3 l2.6,2.6" stroke="#1c1819" stroke-width="2.0" stroke-linecap="round"/>
<path d="M495.7,897.7 l2.6,2.6" stroke="#1c1819" stroke-width="2.0" stroke-linecap="round"/>
<path d="M501.9,904.1 l2.6,2.6" stroke="#1c1819" stroke-width="2.0" stroke-linecap="round"/>
<path d="M508.1,910.5 l2.6,2.6" stroke="#1c1819" stroke-width="2.0" stroke-linecap="round"/>
<path d="M514.3,916.9 l2.6,2.6" stroke="#1c1819" stroke-width="2.0" stroke-linecap="round"/>
<path d="M499.8,876.5 q3.2,1.4 2.0,4.2 q-3,1.6 -1,4.2 q2.4,1.4 0.6,3.8" fill="none" stroke="#231f20" stroke-width="0.9" />
<line x1="503.2" y1="877.5" x2="503.2" y2="892.5" stroke="#1c1819" stroke-width="1.6" />
<path d="M504.5,876 q2.4,-1.2 3.4,1.4 l0.4,8" fill="none" stroke="#231f20" stroke-width="0.8" />
</g>
<path d="M537.11,942.33 L537.03,946.11 L536.81,949.74 L536.43,953.21 L535.91,956.49 L535.25,959.59 L534.44,962.48 L533.49,965.16 L532.4,967.61 L531.19,969.83 L529.85,971.8 L528.38,973.52 L526.81,974.99 L525.12,976.18 L523.33,977.11 L521.44,977.77 L519.46,978.15 L517.41,978.26 L515.28,978.08 L513.09,977.63 L510.84,976.91 L508.55,975.91 L506.22,974.65 L503.86,973.12 L501.49,971.33 L499.1,969.3 L496.71,967.02 L494.34,964.51 L491.98,961.78 L489.65,958.84 L487.36,955.69 L485.11,952.36 L482.92,948.85 L480.79,945.18 L478.74,941.36 L476.76,937.42 L474.87,933.35 L473.08,929.19 L471.39,924.94 L469.82,920.62 L468.35,916.26 L467.01,911.86 L465.8,907.45 L464.71,903.04 L463.76,898.65 L462.95,894.29 L462.29,890 L461.77,885.77 L461.39,881.63 L461.17,877.59 L461.09,873.67 L461.17,869.89 L461.39,866.26 L461.77,862.79 L462.29,859.51 L462.95,856.41 L463.76,853.52 L464.71,850.84 L465.8,848.39 L467.01,846.17 L468.35,844.2 L469.82,842.48 L471.39,841.01 L473.08,839.82 L474.87,838.89 L476.76,838.23 L478.74,837.85 L480.79,837.74 L482.92,837.92 L485.11,838.37 L487.36,839.09 L489.65,840.09 L491.98,841.35 L494.34,842.88 L496.71,844.67 L499.1,846.7 L501.49,848.98 L503.86,851.49 L506.22,854.22 L508.55,857.16 L510.84,860.31 L513.09,863.64 L515.28,867.15 L517.41,870.82 L519.46,874.64 L521.44,878.58 L523.33,882.65 L525.12,886.81 L526.81,891.06 L528.38,895.38 L529.85,899.74 L531.19,904.14 L532.4,908.55 L533.49,912.96 L534.44,917.35 L535.25,921.71 L535.91,926 L536.43,930.23 L536.81,934.37 L537.03,938.41 L537.11,942.33Z" fill="none" stroke="#231f20" stroke-width="0.8" />
<clipPath id="holeclip2"><path d="M0,0 H538 V1273 H0 Z"/></clipPath>
<line x1="447.8" y1="890.4" x2="494.6" y2="876.2" stroke="#1c1819" stroke-width="7.8" stroke-linecap="butt"/>
<ellipse cx="448.6" cy="890.1" rx="6.6" ry="9.8" transform="rotate(-22 448.6 890.1)" fill="#fff" stroke="#231f20" stroke-width="0.9"/>
<ellipse cx="447" cy="890.7" rx="5.2" ry="8.2" transform="rotate(-22 447 890.7)" fill="#fff" stroke="#231f20" stroke-width="0.8"/>
<line x1="434.8" y1="894.3" x2="445.8" y2="891" stroke="#1c1819" stroke-width="7.2" stroke-linecap="round"/>
<ellipse cx="432.4" cy="895" rx="1.2" ry="2.0" transform="rotate(-22 432.4 895)" fill="#ccc"/>
<g clip-path="url(#holeclip)">
<line x1="501.2" y1="939.6" x2="545" y2="926.6" stroke="#1c1819" stroke-width="7.8"/>
</g>
<line x1="501.2" y1="939.6" x2="501.3" y2="939.6" stroke="#1c1819" stroke-width="7.8" stroke-linecap="butt"/>
<ellipse cx="502" cy="939.3" rx="6.6" ry="9.8" transform="rotate(-22 502 939.3)" fill="#fff" stroke="#231f20" stroke-width="0.9"/>
<ellipse cx="500.4" cy="939.9" rx="5.2" ry="8.2" transform="rotate(-22 500.4 939.9)" fill="#fff" stroke="#231f20" stroke-width="0.8"/>
<line x1="486.5" y1="944.4" x2="499.2" y2="940.2" stroke="#1c1819" stroke-width="7.2" stroke-linecap="round"/>
<ellipse cx="484.1" cy="945.1" rx="1.2" ry="2.0" transform="rotate(-22 484.1 945.1)" fill="#ccc"/>
<path d="M243.8,912.8 L244.4,910.6 L246.4,909.3 L369.4,869.8 L372.6,869.9 L374.6,872.3 L374.6,906 L373.6,908.6 L371.4,909.8 L277.3,939.9 L260,936Z" fill="#fff" stroke="#231f20" stroke-width="0.85" />
<path d="M248.6,914.2 Q248.8,912.3 250.6,911.6 L369.8,873.2 Q371.6,873.0 371.7,874.6" fill="none" stroke="#231f20" stroke-width="0.85" />
<path d="M257.2,921.4 L300.6,907.3 Q306.8,905.9 308.0,910.0 Q308.2,915.6 303.2,920.3 L266.8,931.9" fill="none" stroke="#231f20" stroke-width="0.85" />
<path d="M268,929.6 L302.0,918.9 Q306.0,915.2 306.4,911.0" fill="none" stroke="#231f20" stroke-width="0.55" />
<line x1="326" y1="887.2" x2="326" y2="924" stroke="#231f20" stroke-width="2" />
<line x1="334.3" y1="884.5" x2="334.3" y2="921.3" stroke="#231f20" stroke-width="2" />
<line x1="359.3" y1="876.6" x2="359.3" y2="913.5" stroke="#231f20" stroke-width="2.2" />
<line x1="341.3" y1="881.9" x2="341.3" y2="918.7" stroke="#231f20" stroke-width="0.6" />
<line x1="343.1" y1="881.9" x2="343.1" y2="918.7" stroke="#231f20" stroke-width="0.6" />
<line x1="350" y1="879.3" x2="350" y2="916.1" stroke="#231f20" stroke-width="0.6" />
<line x1="351.8" y1="879.3" x2="351.8" y2="916.1" stroke="#231f20" stroke-width="0.6" />
<path d="M243.8,912.8 L246.6,910.3 L249.5,912.4 L340.5,1000.3 L344.6,1001 L344.6,1038 L336,1039.6 L332.5,1036.6 L312.4,1014.6 L306.2,1004.1 L301.9,993.6 L272.7,967.7 L272.7,971.3 L267.4,973.9 L264.8,972.1 L243.8,952Z" fill="#fff" stroke="#231f20" stroke-width="0.85" />
<line x1="249.3" y1="913.2" x2="340.5" y2="1000.3" stroke="#231f20" stroke-width="0.85" />
<line x1="244.4" y1="914.6" x2="332.8" y2="999.6" stroke="#231f20" stroke-width="0.85" />
<path d="M243.8,923.2 Q240.4,922.6 240.3,926.0 L240.6,940.0 Q241.2,943.2 243.8,942.8" fill="#fff" stroke="#231f20" stroke-width="0.85" />
<line x1="241.8" y1="928" x2="332.8" y2="1015.2" stroke="#231f20" stroke-width="0.85" />
<line x1="243.6" y1="931" x2="332.8" y2="1018" stroke="#231f20" stroke-width="0.7" />
<line x1="243.8" y1="942.8" x2="248.6" y2="947.2" stroke="#231f20" stroke-width="0.7" />
<path d="M270.0,965.1 L272.7,967.7 M267.4,973.9 L267.0,969.6 L270.0,965.1" fill="none" stroke="#231f20" stroke-width="0.7" />
<path d="M243.8,952 L264.8,972.1" fill="none" stroke="#231f20" stroke-width="0.85" />
<ellipse cx="259.6" cy="951.8" rx="2.7" ry="3.7" transform="rotate(-20 259.6 951.8)" fill="#fff" stroke="#231f20" stroke-width="0.8"/>
<path d="M259,950.4 q2.6,0.6 2.6,3.6" fill="none" stroke="#231f20" stroke-width="0.6" />
<ellipse cx="312" cy="1001.6" rx="2.7" ry="3.7" transform="rotate(-20 312 1001.6)" fill="#fff" stroke="#231f20" stroke-width="0.8"/>
<path d="M311.4,1000.2 q2.6,0.6 2.6,3.6" fill="none" stroke="#231f20" stroke-width="0.6" />
<path d="M332.8,1000.2 L333.6,998.2 L336.8,996.9 L452.1,961.5 L452.1,1003.4 L346.4,1038.4 L338,1040 L334.2,1039.2 L332.8,1036.6Z" fill="#fff" stroke="#231f20" stroke-width="0.85" />
<line x1="344.6" y1="1001" x2="452.1" y2="966.5" stroke="#231f20" stroke-width="0.85" />
<line x1="344.6" y1="1001" x2="344.6" y2="1038.6" stroke="#231f20" stroke-width="0.85" />
<line x1="332.8" y1="1013.2" x2="344.6" y2="1013.6" stroke="#231f20" stroke-width="0.7" />
<line x1="332.8" y1="1026.6" x2="344.6" y2="1026.6" stroke="#231f20" stroke-width="0.7" />
<path d="M344.6,1012.4 L396.0,996.3 Q401.6,995.2 402.8,999.4 Q402.6,1004.6 398.2,1007.2 L346.6,1022.9" fill="none" stroke="#231f20" stroke-width="0.85" />
<path d="M346.6,1020.8 L397.6,1005.3 Q400.8,1003.0 401.0,999.6" fill="none" stroke="#231f20" stroke-width="0.55" />
<line x1="344.6" y1="1014.2" x2="346.6" y2="1013.6" stroke="#231f20" stroke-width="0.6" />
<line x1="419.6" y1="975.3" x2="419.6" y2="1011.8" stroke="#231f20" stroke-width="2.6" />
<line x1="427.5" y1="973" x2="427.5" y2="1009.5" stroke="#231f20" stroke-width="2.3" />
<line x1="436.3" y1="970.4" x2="436.3" y2="1006.9" stroke="#231f20" stroke-width="1.2" />
<line x1="444.6" y1="967.9" x2="444.6" y2="1004.5" stroke="#231f20" stroke-width="1.2" />
<line x1="452.1" y1="961.3" x2="452.1" y2="1003.6" stroke="#231f20" stroke-width="1" />
<path d="M452.4,961.6 L467.0,957.5 Q472.0,956.6 472.7,961.4 L472.9,992.6 Q472.6,996.6 468.6,997.8 L452.6,1002.6 Z" fill="#fff" stroke="#9a9899" stroke-width="0.8" />
<path d="M454.2,962 L458.0,1000.6 M455.4,961.2 L456.0,1001" fill="none" stroke="#9a9899" stroke-width="0.6" />
<line x1="440.3" y1="950.7" x2="448.2" y2="960.6" stroke="#231f20" stroke-width="1" />
<line x1="446.2" y1="948.7" x2="450.1" y2="959.6" stroke="#231f20" stroke-width="1" />
<line x1="454.1" y1="946.8" x2="453.7" y2="957.6" stroke="#231f20" stroke-width="1" />
<line x1="450.2" y1="1006" x2="449.2" y2="1016.8" stroke="#231f20" stroke-width="1" />
<line x1="455.1" y1="1005" x2="458" y2="1013.8" stroke="#231f20" stroke-width="1" />
<line x1="458" y1="1004" x2="464.9" y2="1013.8" stroke="#231f20" stroke-width="1" />
<line x1="186.6" y1="975.4" x2="257.5" y2="952.6" stroke="#231f20" stroke-width="0.75" stroke-dasharray="4.2 3.1"/>
<line x1="281" y1="943.9" x2="431.4" y2="895.5" stroke="#231f20" stroke-width="0.75" stroke-dasharray="4.2 3.1"/>
<line x1="239.1" y1="1025.4" x2="309.6" y2="1002.6" stroke="#231f20" stroke-width="0.75" stroke-dasharray="4.2 3.1"/>
<line x1="336.8" y1="994.1" x2="483.4" y2="946" stroke="#231f20" stroke-width="0.75" stroke-dasharray="4.2 3.1"/>
<g transform="translate(233.0 960.6) scale(0.92 1.04) translate(-233.0 -960.6)">
<ellipse cx="233" cy="960.6" rx="3.3" ry="4.7" transform="rotate(-20 233 960.6)" fill="none" stroke="url(#chk)" stroke-width="3.0"/>
<ellipse cx="233" cy="960.6" rx="4.8" ry="6.2" transform="rotate(-20 233 960.6)" fill="none" stroke="#231f20" stroke-width="0.6"/>
<ellipse cx="233" cy="960.6" rx="1.8" ry="3.1" transform="rotate(-20 233 960.6)" fill="none" stroke="#231f20" stroke-width="0.6"/>
</g>
<g transform="translate(285.8 1010.3) scale(0.92 1.04) translate(-285.8 -1010.3)">
<ellipse cx="285.8" cy="1010.3" rx="3.3" ry="4.7" transform="rotate(-20 285.8 1010.3)" fill="none" stroke="url(#chk)" stroke-width="3.0"/>
<ellipse cx="285.8" cy="1010.3" rx="4.8" ry="6.2" transform="rotate(-20 285.8 1010.3)" fill="none" stroke="#231f20" stroke-width="0.6"/>
<ellipse cx="285.8" cy="1010.3" rx="1.8" ry="3.1" transform="rotate(-20 285.8 1010.3)" fill="none" stroke="#231f20" stroke-width="0.6"/>
</g>
<g transform="translate(196.9 971.6) scale(1)">
<ellipse cx="1.4" cy="0.2" rx="7.0" ry="9.4" transform="rotate(-24 1.4 0.2)" fill="#fff" stroke="#231f20" stroke-width="0.85"/>
<ellipse cx="0.3" cy="0.8" rx="6.7" ry="9.0" transform="rotate(-24 0.3 0.8)" fill="#fff" stroke="#231f20" stroke-width="0.7"/>
<path d="M4.94,1.03 L1.62,5.2 L-2.92,3.67 L-4.14,-2.03 L-0.82,-6.2 L3.72,-4.67Z" fill="#fff" stroke="#231f20" stroke-width="0.8"/>
<path d="M1.64,3.53 L-1.68,7.7 L-6.22,6.17 L-7.44,0.47 L-4.12,-3.7 L0.42,-2.17Z" fill="#fff" stroke="#231f20" stroke-width="0.85"/>
<line x1="-7.44" y1="0.47" x2="-4.14" y2="-2.03" stroke="#231f20" stroke-width="0.7"/>
<line x1="-4.12" y1="-3.7" x2="-0.82" y2="-6.2" stroke="#231f20" stroke-width="0.7"/>
<line x1="0.42" y1="-2.17" x2="3.72" y2="-4.67" stroke="#231f20" stroke-width="0.7"/>
<line x1="1.64" y1="3.53" x2="4.94" y2="1.03" stroke="#231f20" stroke-width="0.7"/>
<ellipse cx="-2.9" cy="2" rx="3.7" ry="4.6" transform="rotate(-20 -2.9 2)" fill="#fff" stroke="#231f20" stroke-width="0.7"/>
<ellipse cx="-3.1" cy="2.2" rx="2.4" ry="3.1" transform="rotate(-20 -3.1 2.2)" fill="url(#chk)" stroke="#231f20" stroke-width="0.5"/>
</g>
<g transform="translate(249.6 1021.2) scale(1)">
<ellipse cx="1.4" cy="0.2" rx="7.0" ry="9.4" transform="rotate(-24 1.4 0.2)" fill="#fff" stroke="#231f20" stroke-width="0.85"/>
<ellipse cx="0.3" cy="0.8" rx="6.7" ry="9.0" transform="rotate(-24 0.3 0.8)" fill="#fff" stroke="#231f20" stroke-width="0.7"/>
<path d="M4.94,1.03 L1.62,5.2 L-2.92,3.67 L-4.14,-2.03 L-0.82,-6.2 L3.72,-4.67Z" fill="#fff" stroke="#231f20" stroke-width="0.8"/>
<path d="M1.64,3.53 L-1.68,7.7 L-6.22,6.17 L-7.44,0.47 L-4.12,-3.7 L0.42,-2.17Z" fill="#fff" stroke="#231f20" stroke-width="0.85"/>
<line x1="-7.44" y1="0.47" x2="-4.14" y2="-2.03" stroke="#231f20" stroke-width="0.7"/>
<line x1="-4.12" y1="-3.7" x2="-0.82" y2="-6.2" stroke="#231f20" stroke-width="0.7"/>
<line x1="0.42" y1="-2.17" x2="3.72" y2="-4.67" stroke="#231f20" stroke-width="0.7"/>
<line x1="1.64" y1="3.53" x2="4.94" y2="1.03" stroke="#231f20" stroke-width="0.7"/>
<ellipse cx="-2.9" cy="2" rx="3.7" ry="4.6" transform="rotate(-20 -2.9 2)" fill="#fff" stroke="#231f20" stroke-width="0.7"/>
<ellipse cx="-3.1" cy="2.2" rx="2.4" ry="3.1" transform="rotate(-20 -3.1 2.2)" fill="url(#chk)" stroke="#231f20" stroke-width="0.5"/>
</g>
<line x1="433.8" y1="820.5" x2="456.77" y2="838.68" stroke="#1c1819" stroke-width="1.9" />
<path d="M465,845.2 L452.1,841.36 L458.3,833.52Z" fill="#1c1819" stroke="none" stroke-width="0" />
<line x1="632.6" y1="1027.2" x2="609.68" y2="1008.78" stroke="#1c1819" stroke-width="1.9" />
<path d="M601.5,1002.2 L614.38,1006.13 L608.11,1013.93Z" fill="#1c1819" stroke="none" stroke-width="0" />
<line x1="442.6" y1="1053" x2="450.85" y2="1027.68" stroke="#1c1819" stroke-width="1.9" />
<path d="M454.1,1017.7 L454.98,1031.13 L445.47,1028.04Z" fill="#1c1819" stroke="none" stroke-width="0" />
<circle cx="441.1" cy="1085.4" r="32.2" fill="#fff" stroke="#231f20" stroke-width="1.4"/>
<clipPath id="plc"><circle cx="441.1" cy="1085.4" r="31.6"/></clipPath><g clip-path="url(#plc)">
<path d="M433.0,1093.7 L421.5,1116 L424.8,1118 L439.9,1092.7 Z" fill="#fff" stroke="#231f20" stroke-width="1.05" />
<path d="M406,1098.9 L436.4,1083.4 Q437.6,1078.6 440.6,1075.6 Q445.0,1070.6 451.0,1069.0 Q455.6,1067.8 457.6,1069.4 Q460.0,1071.0 459.8,1074.6 Q459.6,1080.0 454.1,1085.3 Q449.4,1088.6 442.5,1090.6 Q436.0,1091.8 432.5,1093.2 L408,1101.6 Z" fill="#fff" stroke="#231f20" stroke-width="1.05" />
<path d="M449.6,1077.2 Q452.6,1071.2 457.4,1069.6 Q457.6,1074.6 455.6,1076.6 Q452.8,1078.6 449.6,1077.2 Z" fill="#fff" stroke="#231f20" stroke-width="0.8" />
<path d="M441.4,1076.4 L448.6,1078.0" fill="none" stroke="#231f20" stroke-width="0.8" />
<path d="M433,1093.4 L437.6,1094.2 L440.2,1092.4" fill="none" stroke="#231f20" stroke-width="0.7" />
<circle cx="443.6" cy="1083.1" r="3.1" fill="#fff" stroke="#231f20" stroke-width="0.8"/>
<circle cx="443.3" cy="1083.3" r="1.2" fill="none" stroke="#231f20" stroke-width="0.6"/>
</g>
</svg>
</body></html>
